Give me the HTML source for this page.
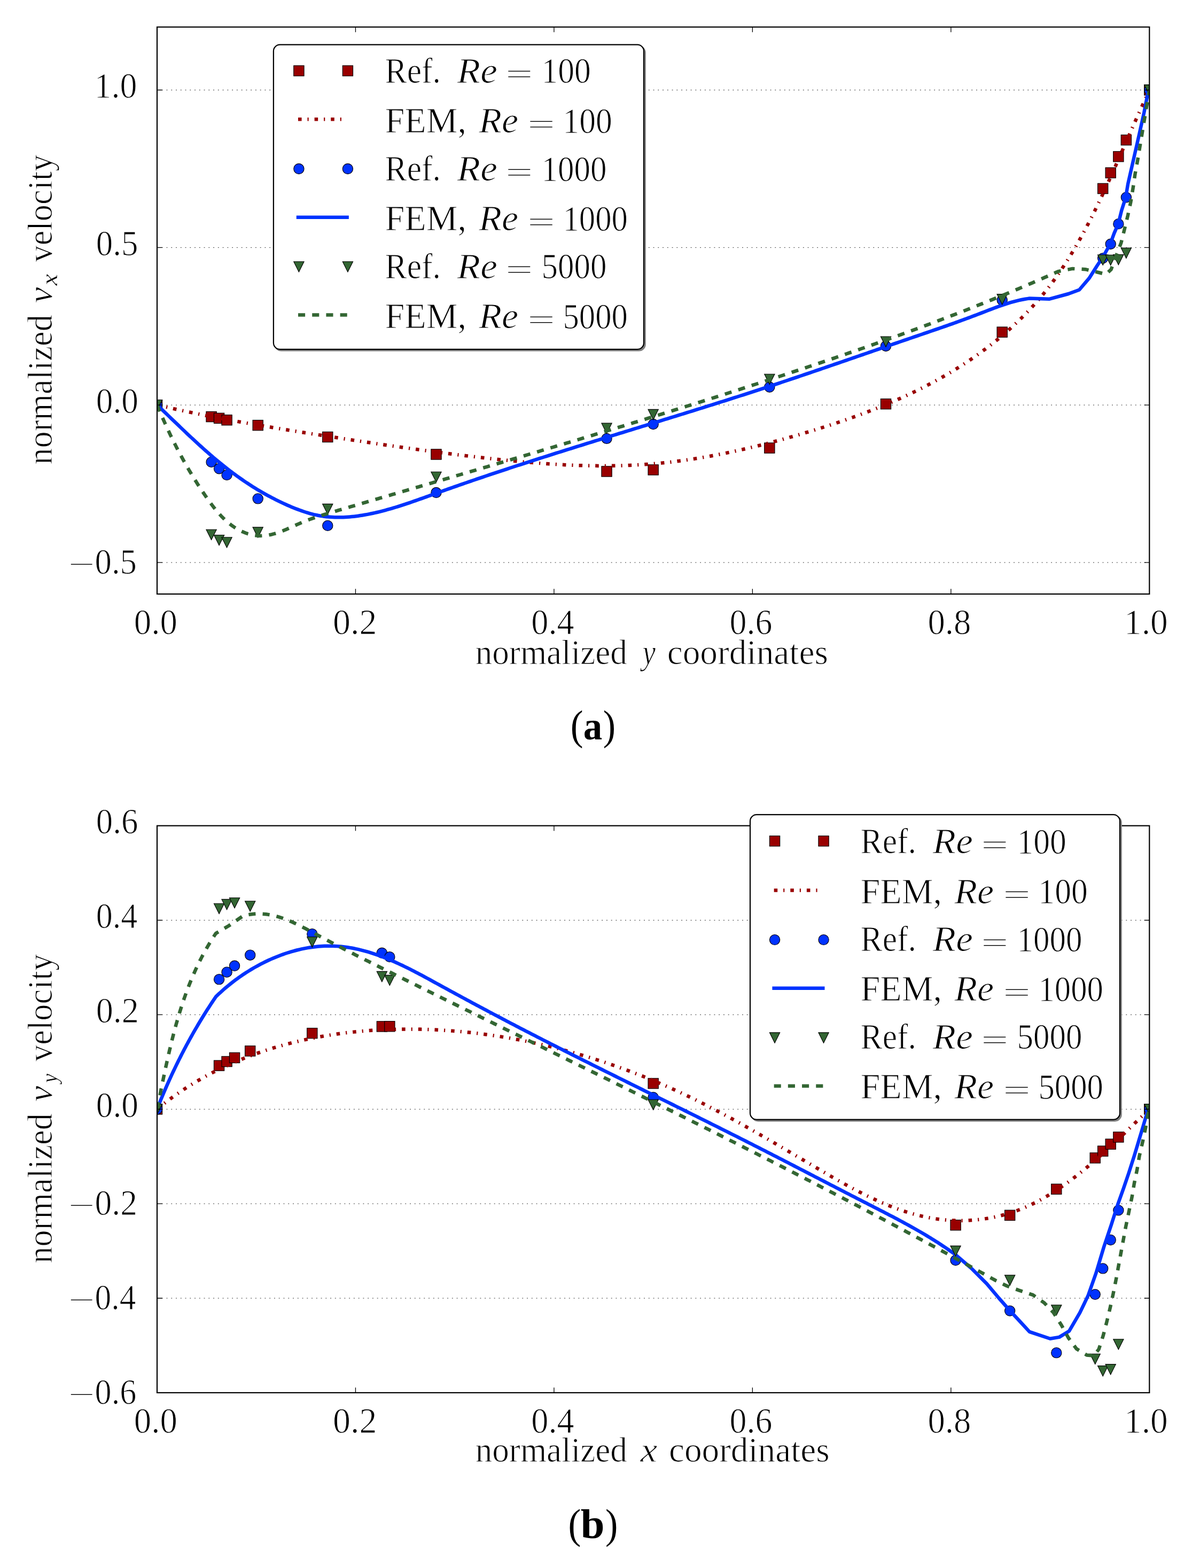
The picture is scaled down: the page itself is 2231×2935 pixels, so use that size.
<!DOCTYPE html>
<html lang="en"><head><meta charset="utf-8"><title>Lid-driven cavity velocity profiles</title>
<style>html,body{margin:0;padding:0;background:#fff}svg{display:block}</style></head>
<body>
<svg width="2231" height="2935" viewBox="0 0 2231 2935" font-family='"Liberation Serif", "DejaVu Serif", serif' fill="#000">
<style>text{stroke:#fff;stroke-width:1.1px;stroke-linejoin:round}text.cap{stroke:none}</style>
<rect width="2231" height="2935" fill="#fff"/>
<defs><clipPath id="c1"><rect x="294.0" y="50.6" width="1857.3000000000002" height="1061.3000000000002"/></clipPath><clipPath id="c2"><rect x="294.0" y="1545.6" width="1857.3000000000002" height="1061.3000000000002"/></clipPath></defs>
<path d="M294 168.52H2151.3M294 463.33H2151.3M294 758.13H2151.3M294 1052.94H2151.3" stroke="#000" stroke-opacity="0.85" stroke-width="1" stroke-dasharray="1.9 6.86" fill="none"/>
<g clip-path="url(#c1)">
<g><rect x="284.35" y="748.48" width="19.3" height="19.3" fill="#990000" stroke="#000" stroke-width="1.1"/><rect x="385.94" y="770.4" width="19.3" height="19.3" fill="#990000" stroke="#000" stroke-width="1.1"/><rect x="400.43" y="773.2" width="19.3" height="19.3" fill="#990000" stroke="#000" stroke-width="1.1"/><rect x="414.92" y="776.64" width="19.3" height="19.3" fill="#990000" stroke="#000" stroke-width="1.1"/><rect x="473.05" y="786.42" width="19.3" height="19.3" fill="#990000" stroke="#000" stroke-width="1.1"/><rect x="603.62" y="808.33" width="19.3" height="19.3" fill="#990000" stroke="#000" stroke-width="1.1"/><rect x="806.81" y="840.83" width="19.3" height="19.3" fill="#990000" stroke="#000" stroke-width="1.1"/><rect x="1125.89" y="872.83" width="19.3" height="19.3" fill="#990000" stroke="#000" stroke-width="1.1"/><rect x="1213" y="869.83" width="19.3" height="19.3" fill="#990000" stroke="#000" stroke-width="1.1"/><rect x="1430.68" y="828.91" width="19.3" height="19.3" fill="#990000" stroke="#000" stroke-width="1.1"/><rect x="1648.35" y="746.53" width="19.3" height="19.3" fill="#990000" stroke="#000" stroke-width="1.1"/><rect x="1866.03" y="611.98" width="19.3" height="19.3" fill="#990000" stroke="#000" stroke-width="1.1"/><rect x="2054.54" y="343.32" width="19.3" height="19.3" fill="#990000" stroke="#000" stroke-width="1.1"/><rect x="2069.03" y="313.81" width="19.3" height="19.3" fill="#990000" stroke="#000" stroke-width="1.1"/><rect x="2083.7" y="283.45" width="19.3" height="19.3" fill="#990000" stroke="#000" stroke-width="1.1"/><rect x="2098.19" y="252.48" width="19.3" height="19.3" fill="#990000" stroke="#000" stroke-width="1.1"/><rect x="2141.65" y="158.87" width="19.3" height="19.3" fill="#990000" stroke="#000" stroke-width="1.1"/></g>
<path d="M294 758 L297.9 758.91 L301.8 759.82 L305.7 760.72 L309.61 761.61 L313.51 762.5 L317.42 763.38 L321.33 764.25 L325.24 765.12 L329.15 765.98 L333.07 766.84 L336.98 767.69 L340.9 768.53 L344.81 769.37 L348.73 770.2 L352.66 771.03 L356.58 771.85 L360.5 772.66 L364.43 773.47 L368.35 774.28 L372.28 775.07 L376.21 775.87 L380.14 776.66 L384.07 777.44 L388 778.22 L391.93 778.99 L395.87 779.76 L399.8 780.52 L403.74 781.28 L407.68 782.03 L411.62 782.78 L415.56 783.53 L419.5 784.27 L423.44 785 L427.38 785.74 L431.32 786.46 L435.27 787.19 L439.21 787.9 L443.16 788.62 L447.11 789.33 L451.05 790.04 L455 790.74 L458.95 791.44 L462.9 792.14 L466.85 792.83 L470.8 793.52 L474.75 794.2 L478.7 794.88 L482.66 795.56 L486.61 796.24 L490.56 796.91 L494.52 797.58 L498.47 798.25 L502.43 798.91 L506.38 799.57 L510.34 800.23 L514.3 800.88 L518.25 801.54 L522.21 802.19 L526.17 802.83 L530.12 803.48 L534.08 804.12 L538.04 804.76 L542 805.4 L545.96 806.03 L549.91 806.67 L553.87 807.3 L557.83 807.93 L561.79 808.56 L565.75 809.18 L569.71 809.81 L573.67 810.43 L577.63 811.05 L581.58 811.67 L585.54 812.29 L589.5 812.91 L593.46 813.53 L597.42 814.14 L601.38 814.76 L605.33 815.37 L609.29 815.98 L613.25 816.59 L617.21 817.2 L621.16 817.81 L625.12 818.42 L629.08 819.03 L633.03 819.63 L636.99 820.24 L640.95 820.84 L644.9 821.45 L648.86 822.05 L652.81 822.65 L656.77 823.25 L660.72 823.85 L664.68 824.45 L668.63 825.04 L672.59 825.64 L676.55 826.23 L680.5 826.83 L684.46 827.42 L688.41 828.01 L692.37 828.59 L696.32 829.18 L700.28 829.77 L704.24 830.35 L708.19 830.93 L712.15 831.51 L716.11 832.09 L720.07 832.66 L724.02 833.24 L727.98 833.81 L731.94 834.38 L735.9 834.95 L739.86 835.52 L743.82 836.08 L747.77 836.65 L751.73 837.21 L755.7 837.77 L759.66 838.32 L763.62 838.88 L767.58 839.43 L771.54 839.98 L775.51 840.53 L779.47 841.08 L783.43 841.62 L787.4 842.16 L791.36 842.7 L795.33 843.24 L799.3 843.77 L803.26 844.3 L807.23 844.83 L811.2 845.36 L815.17 845.88 L819.14 846.4 L823.11 846.92 L827.08 847.43 L831.06 847.95 L835.03 848.46 L839 848.96 L842.98 849.47 L846.95 849.97 L850.93 850.47 L854.91 850.96 L858.89 851.45 L862.87 851.94 L866.85 852.43 L870.83 852.91 L874.82 853.39 L878.8 853.87 L882.79 854.34 L886.77 854.81 L890.76 855.28 L894.75 855.74 L898.74 856.2 L902.73 856.66 L906.72 857.11 L910.71 857.56 L914.71 858.01 L918.7 858.45 L922.7 858.88 L926.7 859.32 L930.7 859.75 L934.7 860.17 L938.7 860.59 L942.7 861 L946.7 861.41 L950.7 861.82 L954.71 862.22 L958.71 862.61 L962.72 862.99 L966.72 863.38 L970.73 863.75 L974.74 864.12 L978.74 864.48 L982.75 864.84 L986.76 865.19 L990.77 865.53 L994.78 865.86 L998.79 866.19 L1002.8 866.51 L1006.81 866.83 L1010.82 867.13 L1014.83 867.43 L1018.84 867.72 L1022.85 868 L1026.86 868.27 L1030.87 868.54 L1034.89 868.79 L1038.9 869.04 L1042.91 869.28 L1046.92 869.51 L1050.93 869.73 L1054.94 869.94 L1058.95 870.14 L1062.96 870.33 L1066.97 870.51 L1070.98 870.68 L1074.99 870.84 L1079 870.99 L1083.01 871.13 L1087.02 871.26 L1091.03 871.37 L1095.04 871.48 L1099.04 871.58 L1103.05 871.66 L1107.06 871.73 L1111.06 871.79 L1115.07 871.84 L1119.07 871.88 L1123.08 871.9 L1127.08 871.92 L1131.08 871.92 L1135.08 871.9 L1139.08 871.88 L1143.08 871.84 L1147.08 871.79 L1151.08 871.72 L1155.07 871.64 L1159.07 871.55 L1163.06 871.45 L1167.05 871.33 L1171.05 871.19 L1175.04 871.04 L1179.03 870.88 L1183.01 870.7 L1187 870.51 L1190.99 870.3 L1194.97 870.08 L1198.95 869.84 L1202.93 869.59 L1206.91 869.32 L1210.89 869.04 L1214.87 868.74 L1218.84 868.42 L1222.82 868.09 L1226.79 867.75 L1230.76 867.38 L1234.73 867.01 L1238.69 866.61 L1242.66 866.21 L1246.62 865.79 L1250.59 865.35 L1254.55 864.9 L1258.51 864.43 L1262.47 863.95 L1266.42 863.46 L1270.38 862.95 L1274.33 862.42 L1278.28 861.89 L1282.23 861.34 L1286.18 860.77 L1290.13 860.19 L1294.07 859.6 L1298.02 859 L1301.96 858.38 L1305.9 857.75 L1309.84 857.1 L1313.78 856.45 L1317.71 855.78 L1321.65 855.09 L1325.58 854.4 L1329.51 853.69 L1333.44 852.97 L1337.37 852.24 L1341.29 851.49 L1345.22 850.74 L1349.14 849.97 L1353.06 849.19 L1356.98 848.4 L1360.9 847.6 L1364.82 846.78 L1368.73 845.96 L1372.65 845.12 L1376.56 844.27 L1380.47 843.41 L1384.38 842.54 L1388.28 841.66 L1392.19 840.77 L1396.09 839.87 L1399.99 838.96 L1403.9 838.04 L1407.79 837.11 L1411.69 836.16 L1415.59 835.21 L1419.48 834.25 L1423.37 833.28 L1427.26 832.3 L1431.15 831.31 L1435.04 830.31 L1438.93 829.3 L1442.81 828.29 L1446.69 827.26 L1450.58 826.22 L1454.45 825.18 L1458.33 824.13 L1462.21 823.07 L1466.08 822 L1469.96 820.92 L1473.83 819.83 L1477.7 818.74 L1481.56 817.64 L1485.43 816.53 L1489.3 815.41 L1493.16 814.29 L1497.02 813.16 L1500.88 812.02 L1504.74 810.87 L1508.59 809.72 L1512.45 808.56 L1516.3 807.39 L1520.15 806.22 L1524 805.03 L1527.85 803.85 L1531.69 802.65 L1535.54 801.44 L1539.38 800.23 L1543.21 799.01 L1547.05 797.78 L1550.88 796.54 L1554.71 795.3 L1558.54 794.04 L1562.36 792.78 L1566.18 791.51 L1570 790.23 L1573.81 788.93 L1577.62 787.63 L1581.42 786.32 L1585.23 785 L1589.03 783.68 L1592.82 782.34 L1596.61 780.99 L1600.4 779.63 L1604.18 778.26 L1607.96 776.88 L1611.73 775.49 L1615.5 774.08 L1619.26 772.67 L1623.02 771.25 L1626.77 769.81 L1630.52 768.36 L1634.26 766.9 L1638 765.43 L1641.73 763.95 L1645.46 762.46 L1649.18 760.95 L1652.9 759.43 L1656.61 757.9 L1660.31 756.35 L1664.01 754.8 L1667.7 753.23 L1671.39 751.64 L1675.06 750.05 L1678.74 748.44 L1682.4 746.81 L1686.06 745.18 L1689.71 743.53 L1693.36 741.86 L1697 740.18 L1700.63 738.49 L1704.25 736.78 L1707.86 735.06 L1711.47 733.32 L1715.07 731.57 L1718.67 729.81 L1722.25 728.02 L1725.83 726.23 L1729.4 724.41 L1732.96 722.59 L1736.51 720.74 L1740.05 718.88 L1743.59 717.01 L1747.11 715.12 L1750.63 713.21 L1754.14 711.28 L1757.64 709.34 L1761.13 707.38 L1764.61 705.41 L1768.08 703.42 L1771.55 701.41 L1775 699.38 L1778.44 697.34 L1781.88 695.28 L1785.3 693.2 L1788.71 691.11 L1792.11 688.99 L1795.5 686.86 L1798.88 684.72 L1802.25 682.55 L1805.6 680.37 L1808.95 678.17 L1812.28 675.96 L1815.6 673.73 L1818.9 671.48 L1822.2 669.21 L1825.48 666.92 L1828.75 664.62 L1832 662.3 L1835.25 659.96 L1838.47 657.61 L1841.69 655.23 L1844.89 652.84 L1848.07 650.43 L1851.25 648.01 L1854.4 645.57 L1857.54 643.1 L1860.67 640.63 L1863.78 638.13 L1866.88 635.62 L1869.96 633.08 L1873.02 630.53 L1876.07 627.97 L1879.1 625.38 L1882.12 622.78 L1885.11 620.15 L1888.09 617.52 L1891.06 614.86 L1894.01 612.18 L1896.93 609.49 L1899.85 606.78 L1902.74 604.05 L1905.61 601.3 L1908.47 598.54 L1911.31 595.75 L1914.13 592.95 L1916.93 590.13 L1919.71 587.29 L1922.47 584.44 L1925.21 581.56 L1927.93 578.67 L1930.63 575.76 L1933.32 572.83 L1935.98 569.88 L1938.62 566.92 L1941.24 563.93 L1943.83 560.93 L1946.41 557.91 L1948.97 554.87 L1951.5 551.81 L1954.01 548.73 L1956.5 545.64 L1958.97 542.52 L1961.42 539.39 L1963.85 536.25 L1966.25 533.08 L1968.64 529.9 L1971 526.7 L1973.35 523.48 L1975.67 520.25 L1977.98 517.01 L1980.27 513.74 L1982.53 510.46 L1984.78 507.17 L1987.02 503.86 L1989.23 500.54 L1991.43 497.21 L1993.6 493.86 L1995.76 490.49 L1997.91 487.12 L2000.04 483.73 L2002.15 480.32 L2004.24 476.91 L2006.32 473.48 L2008.38 470.04 L2010.43 466.59 L2012.46 463.13 L2014.48 459.66 L2016.49 456.17 L2018.48 452.68 L2020.45 449.17 L2022.41 445.66 L2024.36 442.13 L2026.29 438.6 L2028.22 435.06 L2030.12 431.51 L2032.02 427.94 L2033.9 424.38 L2035.78 420.8 L2037.64 417.21 L2039.49 413.62 L2041.32 410.02 L2043.15 406.42 L2044.97 402.8 L2046.77 399.18 L2048.57 395.56 L2050.36 391.93 L2052.13 388.29 L2053.9 384.65 L2055.66 381 L2057.41 377.35 L2059.15 373.69 L2060.88 370.03 L2062.61 366.36 L2064.33 362.7 L2066.04 359.03 L2067.74 355.35 L2069.44 351.67 L2071.13 347.99 L2072.81 344.31 L2074.49 340.63 L2076.16 336.94 L2077.82 333.25 L2079.48 329.56 L2081.14 325.87 L2082.79 322.18 L2084.44 318.49 L2086.08 314.8 L2087.72 311.11 L2089.35 307.42 L2090.98 303.74 L2092.61 300.05 L2094.23 296.36 L2095.86 292.67 L2097.48 288.99 L2099.09 285.31 L2100.71 281.62 L2102.32 277.94 L2103.94 274.26 L2105.55 270.59 L2107.16 266.91 L2108.77 263.24 L2110.38 259.57 L2112 255.9 L2113.61 252.24 L2115.22 248.58 L2116.83 244.92 L2118.45 241.26 L2120.06 237.61 L2121.68 233.96 L2123.3 230.31 L2124.92 226.67 L2126.55 223.03 L2128.17 219.4 L2129.8 215.77 L2131.44 212.14 L2133.07 208.52 L2134.72 204.9 L2136.36 201.29 L2138.01 197.68 L2139.67 194.07 L2141.33 190.48 L2142.99 186.88 L2144.66 183.29 L2146.34 179.71 L2148.02 176.13 L2149.71 172.56 L2151.41 169" fill="none" stroke="#990000" stroke-width="6.5" stroke-linejoin="round" stroke-dasharray="6.58 10.965 2.195 10.965"/>
<g><circle cx="294" cy="758.13" r="9.65" fill="#0033ff" stroke="#000" stroke-width="1.1"/><circle cx="395.59" cy="864.91" r="9.65" fill="#0033ff" stroke="#000" stroke-width="1.1"/><circle cx="410.08" cy="877.21" r="9.65" fill="#0033ff" stroke="#000" stroke-width="1.1"/><circle cx="424.57" cy="889.14" r="9.65" fill="#0033ff" stroke="#000" stroke-width="1.1"/><circle cx="482.7" cy="933.42" r="9.65" fill="#0033ff" stroke="#000" stroke-width="1.1"/><circle cx="613.27" cy="983.89" r="9.65" fill="#0033ff" stroke="#000" stroke-width="1.1"/><circle cx="816.46" cy="922.07" r="9.65" fill="#0033ff" stroke="#000" stroke-width="1.1"/><circle cx="1135.54" cy="820.92" r="9.65" fill="#0033ff" stroke="#000" stroke-width="1.1"/><circle cx="1222.65" cy="793.98" r="9.65" fill="#0033ff" stroke="#000" stroke-width="1.1"/><circle cx="1440.33" cy="724.51" r="9.65" fill="#0033ff" stroke="#000" stroke-width="1.1"/><circle cx="1658" cy="647.76" r="9.65" fill="#0033ff" stroke="#000" stroke-width="1.1"/><circle cx="1875.68" cy="561.77" r="9.65" fill="#0033ff" stroke="#000" stroke-width="1.1"/><circle cx="2064.19" cy="483.35" r="9.65" fill="#0033ff" stroke="#000" stroke-width="1.1"/><circle cx="2078.68" cy="456.74" r="9.65" fill="#0033ff" stroke="#000" stroke-width="1.1"/><circle cx="2093.35" cy="419.15" r="9.65" fill="#0033ff" stroke="#000" stroke-width="1.1"/><circle cx="2107.84" cy="369.41" r="9.65" fill="#0033ff" stroke="#000" stroke-width="1.1"/><circle cx="2151.3" cy="168.52" r="9.65" fill="#0033ff" stroke="#000" stroke-width="1.1"/></g>
<path d="M294 758 L296.94 760.78 L299.87 763.56 L302.8 766.34 L305.72 769.12 L308.64 771.91 L311.55 774.7 L314.46 777.48 L317.37 780.27 L320.27 783.05 L323.17 785.84 L326.07 788.62 L328.97 791.4 L331.86 794.18 L334.76 796.96 L337.66 799.73 L340.56 802.5 L343.46 805.26 L346.36 808.02 L349.27 810.77 L352.18 813.52 L355.09 816.27 L358 819 L360.93 821.73 L363.85 824.45 L366.79 827.17 L369.73 829.87 L372.67 832.57 L375.63 835.25 L378.59 837.93 L381.56 840.6 L384.54 843.25 L387.53 845.9 L390.53 848.53 L393.54 851.15 L396.56 853.76 L399.6 856.36 L402.64 858.94 L405.7 861.51 L408.78 864.06 L411.86 866.6 L414.96 869.12 L418.08 871.63 L421.21 874.12 L424.36 876.6 L427.53 879.05 L430.71 881.49 L433.91 883.91 L437.13 886.32 L440.37 888.7 L443.63 891.07 L446.9 893.41 L450.2 895.74 L453.51 898.04 L456.84 900.32 L460.19 902.58 L463.55 904.82 L466.94 907.03 L470.34 909.22 L473.75 911.39 L477.19 913.53 L480.64 915.65 L484.11 917.74 L487.6 919.81 L491.1 921.84 L494.62 923.86 L498.16 925.84 L501.71 927.8 L505.28 929.72 L508.86 931.62 L512.46 933.49 L516.08 935.33 L519.71 937.14 L523.35 938.91 L527.02 940.66 L530.69 942.37 L534.38 944.05 L538.09 945.7 L541.81 947.31 L545.54 948.89 L549.29 950.44 L553.05 951.94 L556.83 953.4 L560.62 954.81 L564.42 956.17 L568.24 957.48 L572.06 958.72 L575.9 959.91 L579.76 961.03 L583.62 962.07 L587.49 963.05 L591.38 963.94 L595.28 964.76 L599.18 965.49 L603.1 966.13 L607.03 966.69 L610.96 967.16 L614.9 967.55 L618.85 967.86 L622.81 968.09 L626.77 968.25 L630.73 968.34 L634.7 968.35 L638.67 968.3 L642.64 968.18 L646.61 968 L650.58 967.75 L654.55 967.44 L658.52 967.08 L662.48 966.66 L666.44 966.19 L670.4 965.66 L674.35 965.09 L678.3 964.47 L682.23 963.81 L686.16 963.1 L690.08 962.35 L694 961.56 L697.9 960.74 L701.8 959.87 L705.69 958.98 L709.57 958.04 L713.45 957.08 L717.32 956.08 L721.19 955.05 L725.04 953.99 L728.9 952.91 L732.75 951.8 L736.59 950.66 L740.43 949.5 L744.26 948.31 L748.09 947.11 L751.91 945.88 L755.73 944.64 L759.55 943.38 L763.37 942.1 L767.18 940.81 L770.99 939.51 L774.79 938.19 L778.6 936.86 L782.4 935.52 L786.2 934.18 L790 932.82 L793.8 931.46 L797.6 930.1 L801.39 928.74 L805.19 927.37 L808.99 926 L812.78 924.63 L816.58 923.27 L820.38 921.91 L824.18 920.55 L827.98 919.19 L831.78 917.84 L835.58 916.49 L839.38 915.15 L843.18 913.81 L846.99 912.47 L850.79 911.14 L854.6 909.81 L858.4 908.48 L862.21 907.16 L866.02 905.84 L869.82 904.52 L873.63 903.21 L877.44 901.9 L881.25 900.59 L885.06 899.28 L888.87 897.98 L892.68 896.68 L896.5 895.39 L900.31 894.09 L904.12 892.8 L907.94 891.52 L911.75 890.23 L915.57 888.95 L919.38 887.67 L923.2 886.4 L927.02 885.12 L930.83 883.85 L934.65 882.58 L938.47 881.32 L942.29 880.06 L946.11 878.8 L949.93 877.54 L953.75 876.28 L957.57 875.03 L961.4 873.78 L965.22 872.53 L969.04 871.28 L972.86 870.04 L976.69 868.79 L980.51 867.55 L984.34 866.32 L988.16 865.08 L991.99 863.85 L995.81 862.61 L999.64 861.38 L1003.47 860.15 L1007.29 858.93 L1011.12 857.7 L1014.95 856.48 L1018.78 855.26 L1022.6 854.04 L1026.43 852.82 L1030.26 851.61 L1034.09 850.39 L1037.92 849.18 L1041.75 847.97 L1045.58 846.76 L1049.41 845.55 L1053.24 844.34 L1057.08 843.14 L1060.91 841.93 L1064.74 840.73 L1068.57 839.53 L1072.4 838.33 L1076.24 837.13 L1080.07 835.93 L1083.9 834.74 L1087.74 833.54 L1091.57 832.34 L1095.4 831.15 L1099.24 829.96 L1103.07 828.77 L1106.91 827.58 L1110.74 826.39 L1114.58 825.2 L1118.41 824.01 L1122.24 822.82 L1126.08 821.63 L1129.91 820.45 L1133.75 819.26 L1137.59 818.08 L1141.42 816.89 L1145.26 815.71 L1149.09 814.52 L1152.93 813.34 L1156.76 812.16 L1160.6 810.97 L1164.44 809.79 L1168.27 808.61 L1172.11 807.43 L1175.94 806.25 L1179.78 805.07 L1183.61 803.89 L1187.45 802.71 L1191.29 801.52 L1195.12 800.34 L1198.96 799.16 L1202.79 797.98 L1206.63 796.8 L1210.47 795.62 L1214.3 794.44 L1218.14 793.26 L1221.97 792.08 L1225.81 790.89 L1229.64 789.71 L1233.48 788.53 L1237.31 787.35 L1241.15 786.16 L1244.98 784.98 L1248.82 783.8 L1252.65 782.61 L1256.49 781.43 L1260.32 780.24 L1264.16 779.05 L1267.99 777.87 L1271.82 776.68 L1275.66 775.49 L1279.49 774.3 L1283.32 773.11 L1287.16 771.92 L1290.99 770.73 L1294.82 769.53 L1298.65 768.34 L1302.49 767.14 L1306.32 765.95 L1310.15 764.75 L1313.98 763.55 L1317.81 762.35 L1321.64 761.15 L1325.47 759.95 L1329.3 758.75 L1333.13 757.54 L1336.96 756.34 L1340.79 755.13 L1344.62 753.92 L1348.45 752.71 L1352.27 751.5 L1356.1 750.29 L1359.93 749.07 L1363.75 747.86 L1367.58 746.64 L1371.41 745.42 L1375.23 744.2 L1379.06 742.97 L1382.88 741.75 L1386.71 740.52 L1390.53 739.29 L1394.35 738.06 L1398.18 736.83 L1402 735.6 L1405.82 734.36 L1409.64 733.12 L1413.46 731.88 L1417.28 730.64 L1421.1 729.39 L1424.92 728.14 L1428.74 726.89 L1432.56 725.64 L1436.38 724.39 L1440.19 723.13 L1444.01 721.87 L1447.82 720.61 L1451.64 719.35 L1455.46 718.08 L1459.27 716.81 L1463.08 715.54 L1466.9 714.27 L1470.71 713 L1474.52 711.72 L1478.33 710.44 L1482.14 709.16 L1485.96 707.88 L1489.77 706.6 L1493.58 705.31 L1497.38 704.03 L1501.19 702.74 L1505 701.45 L1508.81 700.15 L1512.62 698.86 L1516.42 697.57 L1520.23 696.27 L1524.04 694.97 L1527.84 693.67 L1531.65 692.37 L1535.45 691.07 L1539.26 689.77 L1543.06 688.47 L1546.87 687.16 L1550.67 685.86 L1554.47 684.55 L1558.28 683.25 L1562.08 681.94 L1565.88 680.63 L1569.68 679.32 L1573.48 678.01 L1577.28 676.7 L1581.09 675.39 L1584.89 674.08 L1588.69 672.77 L1592.49 671.46 L1596.29 670.15 L1600.09 668.84 L1603.89 667.52 L1607.68 666.21 L1611.48 664.9 L1615.28 663.59 L1619.08 662.27 L1622.88 660.96 L1626.68 659.65 L1630.47 658.34 L1634.27 657.02 L1638.07 655.71 L1641.86 654.4 L1645.66 653.09 L1649.46 651.78 L1653.25 650.47 L1657.05 649.16 L1660.85 647.85 L1664.64 646.54 L1668.44 645.24 L1672.23 643.93 L1676.03 642.62 L1679.83 641.32 L1683.62 640.02 L1687.42 638.71 L1691.21 637.41 L1695.01 636.11 L1698.8 634.81 L1702.6 633.51 L1706.39 632.22 L1710.19 630.92 L1713.98 629.62 L1717.78 628.33 L1721.57 627.03 L1725.36 625.74 L1729.16 624.44 L1732.95 623.15 L1736.74 621.85 L1740.53 620.55 L1744.32 619.25 L1748.11 617.94 L1751.9 616.64 L1755.69 615.33 L1759.47 614.02 L1763.26 612.7 L1767.04 611.38 L1770.83 610.06 L1774.61 608.73 L1778.39 607.39 L1782.17 606.06 L1785.94 604.71 L1789.72 603.36 L1793.49 602.01 L1797.26 600.65 L1801.03 599.28 L1804.8 597.9 L1808.57 596.52 L1812.33 595.13 L1816.09 593.73 L1819.85 592.32 L1823.61 590.9 L1827.36 589.48 L1831.12 588.05 L1834.86 586.6 L1838.61 585.15 L1842.36 583.7 L1846.11 582.24 L1849.85 580.79 L1853.61 579.35 L1857.36 577.92 L1861.12 576.5 L1864.89 575.11 L1868.66 573.73 L1872.44 572.39 L1876.23 571.07 L1880.03 569.8 L1883.84 568.55 L1887.67 567.36 L1891.5 566.2 L1895.36 565.1 L1899.23 564.05 L1903.11 563.06 L1907.02 562.14 L1910.94 561.27 L1914.88 560.48 L1918.85 559.76 L1922.84 559.12 L1926.85 558.56 L1964.35 559.63 L1999.7 549.99 L2020.06 542.49 L2038.6 520.7 L2053.3 497.5 L2064.3 481 L2077.91 456.78 L2085.41 436.42 L2092.91 419.28 L2099.34 393.57 L2106.84 370 L2111.12 344.27 L2121.84 297.13 L2132.55 249.99 L2141.12 211.42 L2148.62 172.85 L2151.41 169" fill="none" stroke="#0033ff" stroke-width="6.5" stroke-linejoin="round"/>
<g><path d="M284.35 748.48H303.65L294 767.78Z" fill="#336633" stroke="#000" stroke-width="1.1"/><path d="M385.94 991.2H405.24L395.59 1010.5Z" fill="#336633" stroke="#000" stroke-width="1.1"/><path d="M400.43 1001.43H419.73L410.08 1020.73Z" fill="#336633" stroke="#000" stroke-width="1.1"/><path d="M414.92 1005.81H434.22L424.57 1025.11Z" fill="#336633" stroke="#000" stroke-width="1.1"/><path d="M473.05 986.89H492.35L482.7 1006.19Z" fill="#336633" stroke="#000" stroke-width="1.1"/><path d="M603.62 943.35H622.92L613.27 962.65Z" fill="#336633" stroke="#000" stroke-width="1.1"/><path d="M806.81 883.24H826.11L816.46 902.54Z" fill="#336633" stroke="#000" stroke-width="1.1"/><path d="M1125.89 792.14H1145.19L1135.54 811.44Z" fill="#336633" stroke="#000" stroke-width="1.1"/><path d="M1213 766.4H1232.3L1222.65 785.7Z" fill="#336633" stroke="#000" stroke-width="1.1"/><path d="M1430.68 700.24H1449.98L1440.33 719.54Z" fill="#336633" stroke="#000" stroke-width="1.1"/><path d="M1648.35 630.05H1667.65L1658 649.35Z" fill="#336633" stroke="#000" stroke-width="1.1"/><path d="M1866.03 550.63H1885.33L1875.68 569.93Z" fill="#336633" stroke="#000" stroke-width="1.1"/><path d="M2054.54 477.05H2073.84L2064.19 496.35Z" fill="#336633" stroke="#000" stroke-width="1.1"/><path d="M2069.03 477.31H2088.33L2078.68 496.61Z" fill="#336633" stroke="#000" stroke-width="1.1"/><path d="M2083.7 476.55H2103L2093.35 495.85Z" fill="#336633" stroke="#000" stroke-width="1.1"/><path d="M2098.19 464.16H2117.49L2107.84 483.46Z" fill="#336633" stroke="#000" stroke-width="1.1"/><path d="M2141.65 158.87H2160.95L2151.3 178.17Z" fill="#336633" stroke="#000" stroke-width="1.1"/></g>
<path d="M294 758 L295.57 761.79 L297.15 765.56 L298.74 769.31 L300.34 773.05 L301.95 776.78 L303.56 780.49 L305.18 784.18 L306.82 787.87 L308.46 791.53 L310.11 795.19 L311.77 798.83 L313.45 802.47 L315.13 806.08 L316.83 809.69 L318.54 813.29 L320.26 816.87 L322 820.44 L323.74 824.01 L325.5 827.56 L327.28 831.1 L329.07 834.63 L330.87 838.16 L332.69 841.67 L334.53 845.18 L336.37 848.67 L338.24 852.16 L340.12 855.64 L342.02 859.12 L343.94 862.58 L345.87 866.04 L347.82 869.5 L349.79 872.95 L351.78 876.39 L353.79 879.82 L355.82 883.25 L357.87 886.68 L359.93 890.1 L362.02 893.52 L364.13 896.93 L366.26 900.34 L368.41 903.75 L370.58 907.15 L372.78 910.55 L375 913.95 L377.24 917.35 L379.5 920.74 L381.79 924.13 L384.1 927.53 L386.44 930.92 L388.8 934.3 L391.2 937.67 L393.63 941.02 L396.09 944.34 L398.59 947.63 L401.13 950.89 L403.71 954.1 L406.34 957.26 L409.02 960.37 L411.75 963.42 L414.53 966.4 L417.37 969.31 L420.26 972.14 L423.22 974.88 L426.24 977.54 L429.33 980.09 L432.48 982.55 L435.71 984.89 L439 987.13 L442.36 989.24 L445.78 991.22 L449.26 993.07 L452.78 994.79 L456.36 996.35 L459.97 997.77 L463.63 999.02 L467.33 1000.11 L471.05 1001.03 L474.81 1001.78 L478.58 1002.34 L482.38 1002.71 L486.19 1002.89 L490.02 1002.87 L493.85 1002.67 L497.69 1002.29 L501.53 1001.75 L505.37 1001.06 L509.21 1000.21 L513.04 999.22 L516.85 998.11 L520.66 996.87 L524.46 995.52 L528.24 994.08 L532.01 992.56 L535.78 990.97 L539.54 989.33 L543.3 987.66 L547.05 985.96 L550.8 984.26 L554.55 982.56 L558.31 980.88 L562.06 979.23 L565.83 977.64 L569.6 976.09 L573.37 974.6 L577.15 973.16 L580.94 971.76 L584.73 970.4 L588.52 969.08 L592.32 967.8 L596.12 966.54 L599.93 965.32 L603.73 964.11 L607.55 962.93 L611.36 961.77 L615.18 960.62 L619 959.48 L622.82 958.35 L626.64 957.22 L630.46 956.1 L634.29 954.97 L638.12 953.85 L641.94 952.72 L645.77 951.59 L649.6 950.47 L653.43 949.34 L657.26 948.22 L661.09 947.09 L664.93 945.97 L668.76 944.84 L672.6 943.72 L676.43 942.59 L680.27 941.47 L684.11 940.34 L687.95 939.22 L691.79 938.09 L695.63 936.97 L699.47 935.84 L703.31 934.72 L707.15 933.59 L711 932.47 L714.84 931.34 L718.68 930.22 L722.53 929.09 L726.37 927.97 L730.22 926.84 L734.07 925.71 L737.91 924.59 L741.76 923.46 L745.61 922.34 L749.46 921.21 L753.3 920.09 L757.15 918.96 L761 917.83 L764.85 916.71 L768.7 915.58 L772.55 914.45 L776.4 913.33 L780.25 912.2 L784.1 911.07 L787.95 909.95 L791.8 908.82 L795.66 907.69 L799.51 906.57 L803.36 905.44 L807.21 904.31 L811.06 903.18 L814.91 902.05 L818.76 900.93 L822.61 899.8 L826.46 898.67 L830.31 897.54 L834.16 896.41 L838.01 895.28 L841.87 894.15 L845.72 893.02 L849.57 891.89 L853.42 890.76 L857.27 889.63 L861.12 888.5 L864.97 887.37 L868.82 886.24 L872.67 885.11 L876.51 883.97 L880.36 882.84 L884.21 881.71 L888.06 880.58 L891.91 879.44 L895.76 878.31 L899.61 877.18 L903.46 876.04 L907.31 874.91 L911.16 873.77 L915 872.64 L918.85 871.5 L922.7 870.37 L926.55 869.23 L930.4 868.1 L934.24 866.96 L938.09 865.82 L941.94 864.68 L945.79 863.55 L949.63 862.41 L953.48 861.27 L957.33 860.13 L961.17 858.99 L965.02 857.85 L968.87 856.71 L972.71 855.57 L976.56 854.42 L980.4 853.28 L984.25 852.14 L988.1 851 L991.94 849.85 L995.79 848.71 L999.63 847.56 L1003.48 846.42 L1007.32 845.27 L1011.16 844.13 L1015.01 842.98 L1018.85 841.83 L1022.7 840.69 L1026.54 839.54 L1030.38 838.39 L1034.23 837.24 L1038.07 836.09 L1041.91 834.94 L1045.76 833.79 L1049.6 832.63 L1053.44 831.48 L1057.28 830.33 L1061.13 829.18 L1064.97 828.02 L1068.81 826.87 L1072.65 825.71 L1076.49 824.55 L1080.33 823.4 L1084.17 822.24 L1088.01 821.08 L1091.85 819.92 L1095.69 818.76 L1099.53 817.6 L1103.37 816.44 L1107.21 815.28 L1111.05 814.12 L1114.89 812.96 L1118.73 811.79 L1122.57 810.63 L1126.4 809.46 L1130.24 808.3 L1134.08 807.13 L1137.92 805.96 L1141.75 804.79 L1145.59 803.63 L1149.43 802.46 L1153.26 801.29 L1157.1 800.11 L1160.94 798.94 L1164.77 797.77 L1168.61 796.6 L1172.44 795.42 L1176.28 794.25 L1180.11 793.07 L1183.94 791.89 L1187.78 790.71 L1191.61 789.54 L1195.45 788.36 L1199.28 787.18 L1203.11 785.99 L1206.94 784.81 L1210.78 783.63 L1214.61 782.44 L1218.44 781.26 L1222.27 780.07 L1226.1 778.89 L1229.93 777.7 L1233.76 776.51 L1237.59 775.32 L1241.42 774.13 L1245.25 772.94 L1249.08 771.75 L1252.91 770.55 L1256.74 769.36 L1260.57 768.16 L1264.4 766.97 L1268.22 765.77 L1272.05 764.57 L1275.88 763.37 L1279.71 762.17 L1283.53 760.97 L1287.36 759.77 L1291.18 758.57 L1295.01 757.36 L1298.83 756.16 L1302.66 754.95 L1306.48 753.74 L1310.31 752.53 L1314.13 751.32 L1317.95 750.11 L1321.78 748.9 L1325.6 747.69 L1329.42 746.47 L1333.24 745.26 L1337.07 744.04 L1340.89 742.83 L1344.71 741.61 L1348.53 740.39 L1352.35 739.17 L1356.17 737.95 L1359.99 736.72 L1363.81 735.5 L1367.63 734.27 L1371.44 733.05 L1375.26 731.82 L1379.08 730.59 L1382.9 729.36 L1386.71 728.13 L1390.53 726.89 L1394.35 725.66 L1398.16 724.43 L1401.98 723.19 L1405.79 721.95 L1409.61 720.71 L1413.42 719.47 L1417.23 718.23 L1421.05 716.99 L1424.86 715.75 L1428.67 714.5 L1432.48 713.25 L1436.3 712.01 L1440.11 710.76 L1443.92 709.51 L1447.73 708.26 L1451.54 707 L1455.35 705.75 L1459.16 704.49 L1462.96 703.24 L1466.77 701.98 L1470.58 700.72 L1474.39 699.46 L1478.2 698.19 L1482 696.93 L1485.81 695.67 L1489.61 694.4 L1493.42 693.13 L1497.22 691.86 L1501.03 690.59 L1504.83 689.32 L1508.64 688.05 L1512.44 686.77 L1516.24 685.49 L1520.04 684.22 L1523.84 682.94 L1527.65 681.66 L1531.45 680.37 L1535.25 679.09 L1539.04 677.8 L1542.84 676.51 L1546.64 675.23 L1550.44 673.93 L1554.24 672.64 L1558.03 671.35 L1561.83 670.05 L1565.62 668.75 L1569.42 667.45 L1573.21 666.15 L1577.01 664.85 L1580.8 663.54 L1584.59 662.23 L1588.38 660.93 L1592.17 659.61 L1595.96 658.3 L1599.75 656.99 L1603.54 655.67 L1607.33 654.35 L1611.11 653.03 L1614.9 651.71 L1618.69 650.38 L1622.47 649.05 L1626.25 647.72 L1630.04 646.39 L1633.82 645.06 L1637.6 643.72 L1641.38 642.38 L1645.16 641.04 L1648.94 639.7 L1652.72 638.35 L1656.49 637 L1660.27 635.65 L1664.04 634.3 L1667.82 632.95 L1671.59 631.59 L1675.36 630.23 L1679.14 628.87 L1682.91 627.5 L1686.68 626.14 L1690.44 624.77 L1694.21 623.39 L1697.98 622.02 L1701.74 620.64 L1705.51 619.26 L1709.27 617.88 L1713.03 616.49 L1716.79 615.1 L1720.55 613.71 L1724.31 612.32 L1728.07 610.92 L1731.83 609.52 L1735.58 608.12 L1739.34 606.72 L1743.09 605.31 L1746.84 603.9 L1750.59 602.48 L1754.34 601.07 L1758.09 599.65 L1761.84 598.22 L1765.59 596.8 L1769.33 595.37 L1773.08 593.94 L1776.82 592.5 L1780.56 591.07 L1784.3 589.63 L1788.04 588.18 L1791.78 586.73 L1795.51 585.28 L1799.25 583.83 L1802.98 582.37 L1806.71 580.91 L1810.44 579.45 L1814.17 577.98 L1817.9 576.51 L1821.63 575.04 L1825.35 573.56 L1829.08 572.08 L1832.8 570.6 L1836.52 569.11 L1840.24 567.62 L1843.96 566.13 L1847.68 564.63 L1851.39 563.13 L1855.1 561.63 L1858.82 560.12 L1862.53 558.61 L1866.24 557.09 L1869.95 555.57 L1873.65 554.05 L1877.36 552.52 L1881.06 550.99 L1884.76 549.46 L1888.46 547.92 L1892.16 546.38 L1895.86 544.84 L1899.55 543.29 L1903.25 541.74 L1906.94 540.18 L1910.63 538.62 L1914.32 537.05 L1918 535.49 L1921.69 533.91 L1925.37 532.34 L1929.06 530.76 L1932.74 529.17 L1936.41 527.59 L1940.09 525.99 L1943.77 524.4 L1947.44 522.8 L1951.11 521.19 L1954.78 519.58 L1958.45 517.97 L1962.12 516.35 L1965.78 514.73 L1969.44 513.1 L1973.1 511.47 L1976.76 509.84 L1980.42 508.2 L1981.4 507.9 L2007.3 502.9 L2032.3 504.3 L2058.2 510.5 L2069.8 513.5 L2079.6 504.3 L2098.4 454.3 L2104.6 429.3 L2110.9 403.4 L2116.3 378.4 L2120.7 351.6 L2124.41 326.06 L2129.34 299.27 L2133.62 273.56 L2137.91 247.85 L2142.19 222.14 L2146.48 196.42 L2151.41 169" fill="none" stroke="#336633" stroke-width="6.5" stroke-linejoin="round" stroke-dasharray="13.14 13.14"/>
</g>
<path d="M665.46 1111.9v-9.6M665.46 50.6v9.6M1036.92 1111.9v-9.6M1036.92 50.6v9.6M1408.38 1111.9v-9.6M1408.38 50.6v9.6M1779.84 1111.9v-9.6M1779.84 50.6v9.6M294 168.52h9.6M2151.3 168.52h-9.6M294 463.33h9.6M2151.3 463.33h-9.6M294 758.13h9.6M2151.3 758.13h-9.6M294 1052.94h9.6M2151.3 1052.94h-9.6" stroke="#000" stroke-width="1.3" fill="none"/>
<rect x="294" y="50.6" width="1857.3" height="1061.3" fill="none" stroke="#000" stroke-width="2.2"/>
<text><tspan x="176.5" y="183.27" font-size="67.3" textLength="79.91" lengthAdjust="spacingAndGlyphs">1.0</tspan></text>
<text><tspan x="179.73" y="478.08" font-size="67.3" textLength="78.74" lengthAdjust="spacingAndGlyphs">0.5</tspan></text>
<text><tspan x="179.71" y="772.88" font-size="67.3" textLength="79.27" lengthAdjust="spacingAndGlyphs">0.0</tspan></text>
<text><tspan x="127.38" y="1073.91" font-size="54" textLength="50.46" lengthAdjust="spacingAndGlyphs">−</tspan><tspan x="177.54" y="1073.59" font-size="67.3" textLength="78.42" lengthAdjust="spacingAndGlyphs">0.5</tspan></text>
<text><tspan x="250.76" y="1186.75" font-size="67.3" textLength="81.09" lengthAdjust="spacingAndGlyphs">0.0</tspan></text>
<text><tspan x="623.11" y="1186.75" font-size="67.3" textLength="82.47" lengthAdjust="spacingAndGlyphs">0.2</tspan></text>
<text><tspan x="994.28" y="1186.75" font-size="67.3" textLength="80.44" lengthAdjust="spacingAndGlyphs">0.4</tspan></text>
<text><tspan x="1365.49" y="1186.75" font-size="67.3" textLength="79.87" lengthAdjust="spacingAndGlyphs">0.6</tspan></text>
<text><tspan x="1736.46" y="1186.75" font-size="67.3" textLength="80.88" lengthAdjust="spacingAndGlyphs">0.8</tspan></text>
<text><tspan x="2103.96" y="1186.75" font-size="67.3" textLength="81.81" lengthAdjust="spacingAndGlyphs">1.0</tspan></text>
<text><tspan x="889.67" y="1243.15" font-size="65.6" textLength="284.3" lengthAdjust="spacingAndGlyphs">normalized</tspan> <tspan x="1202.55" y="1243.15" font-size="65.6" textLength="24.54" lengthAdjust="spacingAndGlyphs" font-style="italic">y</tspan> <tspan x="1248.63" y="1243.15" font-size="65.6" textLength="301.36" lengthAdjust="spacingAndGlyphs">coordinates</tspan></text>
<text transform="rotate(-90)"><tspan x="-869.71" y="97.45" font-size="65.6" textLength="280.57" lengthAdjust="spacingAndGlyphs">normalized</tspan> <tspan x="-567.57" y="97.45" font-size="65.6" textLength="30.04" lengthAdjust="spacingAndGlyphs" font-style="italic">v</tspan><tspan x="-534.51" y="106.7" font-size="44.4" textLength="21.65" lengthAdjust="spacingAndGlyphs" font-style="italic" stroke-width="0.5">x</tspan> <tspan x="-490.55" y="97.45" font-size="65.6" textLength="201.09" lengthAdjust="spacingAndGlyphs">velocity</tspan></text>
<rect x="514.6" y="86.4" width="693.1" height="570.1" rx="12" fill="#7f7f7f" stroke="#7f7f7f" stroke-width="2.2"/>
<rect x="511.9" y="83.7" width="693.1" height="570.1" rx="12" fill="#fff" stroke="#000" stroke-width="2.2"/>
<rect x="549.75" y="122.85" width="19.3" height="19.3" fill="#990000" stroke="#000" stroke-width="1.1"/>
<rect x="641.25" y="122.85" width="19.3" height="19.3" fill="#990000" stroke="#000" stroke-width="1.1"/>
<circle cx="559.4" cy="316" r="9.65" fill="#0033ff" stroke="#000" stroke-width="1.1"/>
<circle cx="650.9" cy="316" r="9.65" fill="#0033ff" stroke="#000" stroke-width="1.1"/>
<path d="M549.75 489.75H569.05L559.4 509.05Z" fill="#336633" stroke="#000" stroke-width="1.1"/>
<path d="M641.25 489.75H660.55L650.9 509.05Z" fill="#336633" stroke="#000" stroke-width="1.1"/>
<path d="M558 223.3H649" stroke="#990000" stroke-width="6.5" stroke-dasharray="6.56 10.93 2.19 10.93" fill="none"/>
<path d="M558 406.7H649.6" stroke="#0033ff" stroke-width="6.5" stroke-linecap="square" fill="none"/>
<path d="M558 589.6H650.5" stroke="#336633" stroke-width="6.5" stroke-dasharray="13.1 13.1" fill="none"/>
<text><tspan x="720.6" y="154.85" font-size="68.6" textLength="104.39" lengthAdjust="spacingAndGlyphs">Ref.</tspan> <tspan x="855.61" y="154.85" font-size="68.6" textLength="75.2" lengthAdjust="spacingAndGlyphs" font-style="italic">Re</tspan> <tspan x="945.84" y="156.3" font-size="53.5" textLength="52.03" lengthAdjust="spacingAndGlyphs">=</tspan> <tspan x="1013.4" y="155.35" font-size="67.3" textLength="92.52" lengthAdjust="spacingAndGlyphs">100</tspan></text>
<text><tspan x="720.46" y="248.35" font-size="68.6" textLength="152.63" lengthAdjust="spacingAndGlyphs">FEM,</tspan> <tspan x="896.3" y="248.35" font-size="68.6" textLength="73.88" lengthAdjust="spacingAndGlyphs" font-style="italic">Re</tspan> <tspan x="986.89" y="249.8" font-size="53.5" textLength="52.52" lengthAdjust="spacingAndGlyphs">=</tspan> <tspan x="1053.3" y="248.85" font-size="67.3" textLength="92.52" lengthAdjust="spacingAndGlyphs">100</tspan></text>
<text><tspan x="720.6" y="338.15" font-size="68.6" textLength="104.39" lengthAdjust="spacingAndGlyphs">Ref.</tspan> <tspan x="855.61" y="338.15" font-size="68.6" textLength="75.2" lengthAdjust="spacingAndGlyphs" font-style="italic">Re</tspan> <tspan x="945.84" y="339.6" font-size="53.5" textLength="52.03" lengthAdjust="spacingAndGlyphs">=</tspan> <tspan x="1013.46" y="338.65" font-size="67.3" textLength="122.03" lengthAdjust="spacingAndGlyphs">1000</tspan></text>
<text><tspan x="720.46" y="431.15" font-size="68.6" textLength="152.63" lengthAdjust="spacingAndGlyphs">FEM,</tspan> <tspan x="896.3" y="431.15" font-size="68.6" textLength="73.88" lengthAdjust="spacingAndGlyphs" font-style="italic">Re</tspan> <tspan x="986.89" y="432.6" font-size="53.5" textLength="52.52" lengthAdjust="spacingAndGlyphs">=</tspan> <tspan x="1053.38" y="431.65" font-size="67.3" textLength="121.5" lengthAdjust="spacingAndGlyphs">1000</tspan></text>
<text><tspan x="720.6" y="520.55" font-size="68.6" textLength="104.39" lengthAdjust="spacingAndGlyphs">Ref.</tspan> <tspan x="855.61" y="520.55" font-size="68.6" textLength="75.2" lengthAdjust="spacingAndGlyphs" font-style="italic">Re</tspan> <tspan x="945.84" y="522" font-size="53.5" textLength="52.03" lengthAdjust="spacingAndGlyphs">=</tspan> <tspan x="1013.59" y="521.05" font-size="67.3" textLength="121.89" lengthAdjust="spacingAndGlyphs">5000</tspan></text>
<text><tspan x="720.46" y="614.05" font-size="68.6" textLength="152.63" lengthAdjust="spacingAndGlyphs">FEM,</tspan> <tspan x="896.3" y="614.05" font-size="68.6" textLength="73.88" lengthAdjust="spacingAndGlyphs" font-style="italic">Re</tspan> <tspan x="986.89" y="615.5" font-size="53.5" textLength="52.52" lengthAdjust="spacingAndGlyphs">=</tspan> <tspan x="1053.51" y="614.55" font-size="67.3" textLength="121.37" lengthAdjust="spacingAndGlyphs">5000</tspan></text>
<path d="M294 1722.48H2151.3M294 1899.37H2151.3M294 2076.25H2151.3M294 2253.13H2151.3M294 2430.02H2151.3" stroke="#000" stroke-opacity="0.85" stroke-width="1" stroke-dasharray="1.9 6.86" fill="none"/>
<g clip-path="url(#c2)">
<g><rect x="284.35" y="2066.6" width="19.3" height="19.3" fill="#990000" stroke="#000" stroke-width="1.1"/><rect x="400.43" y="1984.94" width="19.3" height="19.3" fill="#990000" stroke="#000" stroke-width="1.1"/><rect x="414.92" y="1977.35" width="19.3" height="19.3" fill="#990000" stroke="#000" stroke-width="1.1"/><rect x="429.41" y="1970.29" width="19.3" height="19.3" fill="#990000" stroke="#000" stroke-width="1.1"/><rect x="458.56" y="1957.67" width="19.3" height="19.3" fill="#990000" stroke="#000" stroke-width="1.1"/><rect x="574.65" y="1924.41" width="19.3" height="19.3" fill="#990000" stroke="#000" stroke-width="1.1"/><rect x="705.21" y="1911.77" width="19.3" height="19.3" fill="#990000" stroke="#000" stroke-width="1.1"/><rect x="719.7" y="1911.59" width="19.3" height="19.3" fill="#990000" stroke="#000" stroke-width="1.1"/><rect x="1213" y="2018.36" width="19.3" height="19.3" fill="#990000" stroke="#000" stroke-width="1.1"/><rect x="1778.92" y="2283.57" width="19.3" height="19.3" fill="#990000" stroke="#000" stroke-width="1.1"/><rect x="1880.51" y="2265.11" width="19.3" height="19.3" fill="#990000" stroke="#000" stroke-width="1.1"/><rect x="1967.62" y="2216.19" width="19.3" height="19.3" fill="#990000" stroke="#000" stroke-width="1.1"/><rect x="2040.06" y="2157.81" width="19.3" height="19.3" fill="#990000" stroke="#000" stroke-width="1.1"/><rect x="2054.54" y="2144.99" width="19.3" height="19.3" fill="#990000" stroke="#000" stroke-width="1.1"/><rect x="2069.03" y="2131.97" width="19.3" height="19.3" fill="#990000" stroke="#000" stroke-width="1.1"/><rect x="2083.7" y="2118.83" width="19.3" height="19.3" fill="#990000" stroke="#000" stroke-width="1.1"/><rect x="2141.65" y="2066.6" width="19.3" height="19.3" fill="#990000" stroke="#000" stroke-width="1.1"/></g>
<path d="M294 2076 L297.17 2073.41 L300.36 2070.85 L303.56 2068.32 L306.78 2065.81 L310.01 2063.32 L313.25 2060.86 L316.51 2058.43 L319.78 2056.02 L323.06 2053.64 L326.36 2051.28 L329.67 2048.94 L332.99 2046.63 L336.32 2044.35 L339.67 2042.09 L343.03 2039.86 L346.4 2037.65 L349.79 2035.46 L353.18 2033.3 L356.59 2031.17 L360.01 2029.06 L363.45 2026.97 L366.89 2024.9 L370.35 2022.86 L373.82 2020.85 L377.29 2018.86 L380.78 2016.89 L384.29 2014.95 L387.8 2013.03 L391.32 2011.13 L394.86 2009.26 L398.4 2007.41 L401.96 2005.58 L405.52 2003.78 L409.1 2002 L412.68 2000.24 L416.28 1998.5 L419.89 1996.79 L423.5 1995.1 L427.13 1993.44 L430.76 1991.8 L434.41 1990.18 L438.06 1988.58 L441.73 1987 L445.4 1985.45 L449.08 1983.92 L452.77 1982.41 L456.47 1980.92 L460.18 1979.46 L463.9 1978.02 L467.62 1976.6 L471.36 1975.2 L475.1 1973.82 L478.85 1972.46 L482.61 1971.13 L486.37 1969.82 L490.15 1968.53 L493.93 1967.26 L497.72 1966.01 L501.51 1964.78 L505.32 1963.57 L509.13 1962.39 L512.95 1961.22 L516.77 1960.08 L520.6 1958.95 L524.44 1957.85 L528.29 1956.77 L532.14 1955.71 L535.99 1954.67 L539.86 1953.65 L543.73 1952.65 L547.6 1951.66 L551.49 1950.7 L555.37 1949.76 L559.27 1948.84 L563.17 1947.94 L567.07 1947.06 L570.98 1946.2 L574.89 1945.36 L578.81 1944.54 L582.74 1943.73 L586.67 1942.95 L590.6 1942.18 L594.54 1941.44 L598.49 1940.71 L602.43 1940.01 L606.39 1939.32 L610.34 1938.65 L614.3 1938 L618.27 1937.37 L622.23 1936.75 L626.21 1936.16 L630.18 1935.58 L634.16 1935.02 L638.14 1934.48 L642.13 1933.96 L646.11 1933.46 L650.11 1932.97 L654.1 1932.51 L658.1 1932.06 L662.1 1931.62 L666.1 1931.21 L670.1 1930.81 L674.11 1930.43 L678.12 1930.07 L682.13 1929.73 L686.14 1929.4 L690.16 1929.09 L694.17 1928.8 L698.19 1928.52 L702.21 1928.27 L706.23 1928.02 L710.25 1927.8 L714.27 1927.59 L718.3 1927.4 L722.32 1927.22 L726.35 1927.07 L730.37 1926.92 L734.4 1926.8 L738.43 1926.69 L742.45 1926.6 L746.48 1926.52 L750.51 1926.46 L754.54 1926.41 L758.56 1926.38 L762.59 1926.37 L766.62 1926.37 L770.64 1926.39 L774.67 1926.42 L778.69 1926.47 L782.72 1926.53 L786.74 1926.61 L790.76 1926.71 L794.79 1926.82 L798.81 1926.94 L802.83 1927.08 L806.85 1927.24 L810.86 1927.41 L814.88 1927.59 L818.9 1927.8 L822.91 1928.01 L826.93 1928.24 L830.94 1928.49 L834.95 1928.75 L838.96 1929.02 L842.97 1929.31 L846.98 1929.62 L850.98 1929.94 L854.99 1930.27 L858.99 1930.62 L862.99 1930.99 L866.99 1931.36 L870.99 1931.76 L874.99 1932.17 L878.99 1932.59 L882.98 1933.02 L886.97 1933.47 L890.96 1933.94 L894.95 1934.42 L898.94 1934.91 L902.93 1935.42 L906.91 1935.94 L910.89 1936.48 L914.87 1937.03 L918.85 1937.59 L922.82 1938.17 L926.8 1938.76 L930.77 1939.36 L934.74 1939.98 L938.7 1940.62 L942.67 1941.26 L946.63 1941.93 L950.59 1942.6 L954.55 1943.29 L958.5 1943.99 L962.46 1944.71 L966.41 1945.43 L970.36 1946.18 L974.3 1946.93 L978.24 1947.7 L982.18 1948.49 L986.12 1949.28 L990.06 1950.09 L993.99 1950.91 L997.92 1951.75 L1001.85 1952.6 L1005.77 1953.46 L1009.69 1954.33 L1013.61 1955.22 L1017.52 1956.12 L1021.44 1957.04 L1025.34 1957.97 L1029.25 1958.91 L1033.15 1959.86 L1037.05 1960.82 L1040.95 1961.8 L1044.84 1962.79 L1048.73 1963.8 L1052.62 1964.81 L1056.5 1965.84 L1060.38 1966.88 L1064.26 1967.94 L1068.13 1969 L1072 1970.08 L1075.87 1971.17 L1079.73 1972.28 L1083.59 1973.39 L1087.45 1974.52 L1091.3 1975.66 L1095.15 1976.81 L1098.99 1977.98 L1102.83 1979.15 L1106.67 1980.34 L1110.5 1981.54 L1114.33 1982.76 L1118.16 1983.98 L1121.98 1985.22 L1125.8 1986.47 L1129.61 1987.73 L1133.42 1989 L1137.22 1990.28 L1141.02 1991.58 L1144.82 1992.88 L1148.61 1994.2 L1152.4 1995.53 L1156.18 1996.87 L1159.96 1998.23 L1163.74 1999.59 L1167.51 2000.97 L1171.27 2002.35 L1175.04 2003.75 L1178.79 2005.16 L1182.54 2006.58 L1186.29 2008.02 L1190.03 2009.46 L1193.77 2010.91 L1197.51 2012.38 L1201.24 2013.85 L1204.96 2015.34 L1208.68 2016.84 L1212.39 2018.35 L1216.1 2019.87 L1219.81 2021.4 L1223.51 2022.94 L1227.2 2024.5 L1230.89 2026.06 L1234.57 2027.63 L1238.25 2029.22 L1241.93 2030.81 L1245.59 2032.42 L1249.26 2034.03 L1252.92 2035.66 L1256.57 2037.3 L1260.21 2038.94 L1263.86 2040.6 L1267.49 2042.27 L1271.12 2043.95 L1274.75 2045.64 L1278.37 2047.33 L1281.98 2049.04 L1285.59 2050.76 L1289.19 2052.49 L1292.79 2054.23 L1296.38 2055.98 L1299.97 2057.73 L1303.55 2059.5 L1307.12 2061.28 L1310.69 2063.07 L1314.26 2064.86 L1317.82 2066.66 L1321.38 2068.48 L1324.93 2070.3 L1328.48 2072.13 L1332.02 2073.97 L1335.56 2075.81 L1339.09 2077.67 L1342.62 2079.53 L1346.15 2081.4 L1349.67 2083.28 L1353.19 2085.16 L1356.71 2087.05 L1360.22 2088.95 L1363.73 2090.86 L1367.24 2092.77 L1370.74 2094.69 L1374.24 2096.62 L1377.74 2098.55 L1381.23 2100.49 L1384.73 2102.43 L1388.22 2104.38 L1391.71 2106.34 L1395.19 2108.3 L1398.68 2110.27 L1402.16 2112.24 L1405.64 2114.22 L1409.12 2116.2 L1412.6 2118.19 L1416.08 2120.18 L1419.55 2122.18 L1423.03 2124.18 L1426.5 2126.19 L1429.98 2128.2 L1433.45 2130.21 L1436.92 2132.23 L1440.39 2134.25 L1443.86 2136.27 L1447.34 2138.3 L1450.81 2140.33 L1454.28 2142.37 L1457.75 2144.4 L1461.22 2146.44 L1464.69 2148.49 L1468.17 2150.53 L1471.64 2152.58 L1475.11 2154.63 L1478.59 2156.68 L1482.07 2158.73 L1485.54 2160.79 L1489.02 2162.84 L1492.5 2164.9 L1495.99 2166.96 L1499.47 2169.02 L1502.96 2171.08 L1506.44 2173.14 L1509.93 2175.2 L1513.43 2177.27 L1516.92 2179.33 L1520.42 2181.39 L1523.92 2183.46 L1527.42 2185.52 L1530.92 2187.58 L1534.43 2189.64 L1537.94 2191.7 L1541.46 2193.76 L1544.98 2195.82 L1548.5 2197.87 L1552.02 2199.92 L1555.55 2201.96 L1559.08 2203.99 L1562.62 2206.02 L1566.16 2208.04 L1569.71 2210.05 L1573.25 2212.05 L1576.81 2214.05 L1580.37 2216.03 L1583.93 2217.99 L1587.5 2219.95 L1591.07 2221.89 L1594.65 2223.82 L1598.23 2225.73 L1601.82 2227.63 L1605.41 2229.51 L1609.01 2231.37 L1612.61 2233.22 L1616.22 2235.05 L1619.84 2236.85 L1623.46 2238.64 L1627.09 2240.4 L1630.73 2242.14 L1634.37 2243.86 L1638.02 2245.55 L1641.67 2247.22 L1645.33 2248.87 L1649 2250.49 L1652.67 2252.08 L1656.36 2253.64 L1660.05 2255.17 L1663.74 2256.68 L1667.45 2258.15 L1671.16 2259.6 L1674.88 2261.01 L1678.6 2262.39 L1682.34 2263.73 L1686.08 2265.05 L1689.83 2266.32 L1693.59 2267.56 L1697.36 2268.77 L1701.14 2269.93 L1704.93 2271.06 L1708.72 2272.15 L1712.52 2273.2 L1716.34 2274.21 L1720.16 2275.17 L1723.99 2276.1 L1727.83 2276.98 L1731.68 2277.82 L1735.54 2278.61 L1739.41 2279.36 L1743.29 2280.06 L1747.18 2280.71 L1751.08 2281.32 L1754.99 2281.88 L1758.91 2282.39 L1762.84 2282.85 L1766.78 2283.25 L1770.72 2283.61 L1774.68 2283.92 L1778.64 2284.18 L1782.6 2284.39 L1786.58 2284.55 L1790.55 2284.66 L1794.53 2284.72 L1798.51 2284.73 L1802.5 2284.69 L1806.48 2284.6 L1810.47 2284.46 L1814.46 2284.26 L1818.44 2284.02 L1822.42 2283.73 L1826.41 2283.38 L1830.38 2282.99 L1834.36 2282.54 L1838.32 2282.05 L1842.29 2281.5 L1846.24 2280.9 L1850.19 2280.25 L1854.13 2279.55 L1858.06 2278.8 L1861.98 2277.99 L1865.9 2277.14 L1869.8 2276.23 L1873.69 2275.27 L1877.56 2274.26 L1881.42 2273.2 L1885.27 2272.09 L1889.11 2270.92 L1892.92 2269.71 L1896.73 2268.44 L1900.51 2267.12 L1904.28 2265.74 L1908.02 2264.32 L1911.75 2262.84 L1915.46 2261.32 L1919.15 2259.75 L1922.83 2258.12 L1926.48 2256.46 L1930.12 2254.74 L1933.74 2252.99 L1937.34 2251.19 L1940.92 2249.35 L1944.48 2247.47 L1948.03 2245.54 L1951.55 2243.58 L1955.06 2241.59 L1958.55 2239.56 L1962.02 2237.49 L1965.48 2235.39 L1968.91 2233.25 L1972.33 2231.09 L1975.73 2228.89 L1979.12 2226.67 L1982.48 2224.41 L1985.83 2222.13 L1989.16 2219.83 L1992.47 2217.5 L1995.76 2215.14 L1999.04 2212.77 L2002.3 2210.37 L2005.54 2207.95 L2008.77 2205.51 L2011.98 2203.05 L2015.17 2200.58 L2018.35 2198.08 L2021.51 2195.57 L2024.66 2193.03 L2027.79 2190.49 L2030.91 2187.92 L2034.01 2185.34 L2037.11 2182.75 L2040.19 2180.14 L2043.25 2177.52 L2046.31 2174.88 L2049.35 2172.23 L2052.38 2169.57 L2055.4 2166.9 L2058.41 2164.21 L2061.41 2161.52 L2064.4 2158.82 L2067.38 2156.11 L2070.36 2153.38 L2073.32 2150.66 L2076.27 2147.92 L2079.22 2145.18 L2082.16 2142.43 L2085.09 2139.67 L2088.01 2136.92 L2090.93 2134.15 L2093.85 2131.38 L2096.75 2128.61 L2099.65 2125.84 L2102.55 2123.06 L2105.44 2120.29 L2108.33 2117.51 L2111.21 2114.73 L2114.09 2111.95 L2116.97 2109.18 L2119.85 2106.4 L2122.72 2103.63 L2125.59 2100.86 L2128.46 2098.09 L2131.33 2095.33 L2134.2 2092.57 L2137.06 2089.82 L2139.93 2087.07 L2142.8 2084.32 L2145.67 2081.59 L2148.54 2078.86 L2151.41 2076.14" fill="none" stroke="#990000" stroke-width="6.5" stroke-linejoin="round" stroke-dasharray="6.58 10.965 2.195 10.965"/>
<g><circle cx="294" cy="2076.25" r="9.65" fill="#0033ff" stroke="#000" stroke-width="1.1"/><circle cx="410.08" cy="1833.17" r="9.65" fill="#0033ff" stroke="#000" stroke-width="1.1"/><circle cx="424.57" cy="1819.66" r="9.65" fill="#0033ff" stroke="#000" stroke-width="1.1"/><circle cx="439.06" cy="1807.8" r="9.65" fill="#0033ff" stroke="#000" stroke-width="1.1"/><circle cx="468.21" cy="1787.69" r="9.65" fill="#0033ff" stroke="#000" stroke-width="1.1"/><circle cx="584.3" cy="1748.18" r="9.65" fill="#0033ff" stroke="#000" stroke-width="1.1"/><circle cx="714.86" cy="1783.73" r="9.65" fill="#0033ff" stroke="#000" stroke-width="1.1"/><circle cx="729.35" cy="1791.16" r="9.65" fill="#0033ff" stroke="#000" stroke-width="1.1"/><circle cx="1222.65" cy="2053.91" r="9.65" fill="#0033ff" stroke="#000" stroke-width="1.1"/><circle cx="1788.57" cy="2358.96" r="9.65" fill="#0033ff" stroke="#000" stroke-width="1.1"/><circle cx="1890.16" cy="2453.59" r="9.65" fill="#0033ff" stroke="#000" stroke-width="1.1"/><circle cx="1977.27" cy="2532.17" r="9.65" fill="#0033ff" stroke="#000" stroke-width="1.1"/><circle cx="2049.71" cy="2422.84" r="9.65" fill="#0033ff" stroke="#000" stroke-width="1.1"/><circle cx="2064.19" cy="2374.42" r="9.65" fill="#0033ff" stroke="#000" stroke-width="1.1"/><circle cx="2078.68" cy="2320.96" r="9.65" fill="#0033ff" stroke="#000" stroke-width="1.1"/><circle cx="2093.35" cy="2265.41" r="9.65" fill="#0033ff" stroke="#000" stroke-width="1.1"/><circle cx="2151.3" cy="2076.25" r="9.65" fill="#0033ff" stroke="#000" stroke-width="1.1"/></g>
<path d="M294 2076 L295.5 2072.19 L297.01 2068.39 L298.54 2064.59 L300.08 2060.8 L301.64 2057.01 L303.21 2053.23 L304.79 2049.45 L306.39 2045.67 L308 2041.9 L309.62 2038.14 L311.26 2034.38 L312.91 2030.62 L314.58 2026.88 L316.26 2023.13 L317.95 2019.39 L319.66 2015.66 L321.38 2011.94 L323.12 2008.22 L324.86 2004.5 L326.63 2000.8 L328.4 1997.1 L330.2 1993.4 L332 1989.71 L333.82 1986.03 L335.65 1982.36 L337.5 1978.69 L339.36 1975.03 L341.23 1971.38 L343.12 1967.73 L345.03 1964.09 L346.94 1960.46 L348.87 1956.84 L350.82 1953.22 L352.78 1949.62 L354.75 1946.02 L356.74 1942.43 L358.74 1938.84 L360.75 1935.27 L362.78 1931.7 L364.82 1928.14 L366.88 1924.6 L368.95 1921.06 L371.03 1917.52 L373.13 1914 L375.25 1910.49 L377.37 1906.99 L379.51 1903.49 L381.67 1900.01 L383.84 1896.53 L386.02 1893.07 L388.22 1889.61 L390.43 1886.17 L392.66 1882.73 L394.9 1879.31 L397.15 1875.89 L399.42 1872.49 L401.7 1869.1 L404 1865.71 L406.85 1862.96 L409.74 1860.22 L412.67 1857.52 L415.63 1854.84 L418.63 1852.18 L421.67 1849.56 L424.74 1846.97 L427.85 1844.4 L430.99 1841.87 L434.16 1839.36 L437.37 1836.89 L440.6 1834.46 L443.87 1832.05 L447.17 1829.68 L450.5 1827.35 L453.85 1825.05 L457.24 1822.79 L460.65 1820.56 L464.09 1818.37 L467.55 1816.23 L471.04 1814.12 L474.56 1812.05 L478.1 1810.02 L481.66 1808.04 L485.24 1806.09 L488.85 1804.2 L492.48 1802.34 L496.12 1800.53 L499.79 1798.76 L503.48 1797.04 L507.18 1795.37 L510.9 1793.75 L514.64 1792.17 L518.4 1790.65 L522.17 1789.17 L525.95 1787.74 L529.75 1786.37 L533.56 1785.05 L537.39 1783.78 L541.23 1782.56 L545.07 1781.4 L548.93 1780.3 L552.8 1779.25 L556.68 1778.25 L560.56 1777.32 L564.46 1776.44 L568.36 1775.62 L572.26 1774.86 L576.18 1774.16 L580.09 1773.52 L584.02 1772.95 L587.94 1772.44 L591.87 1771.99 L595.8 1771.6 L599.73 1771.28 L603.66 1771.02 L607.59 1770.83 L611.52 1770.71 L615.45 1770.66 L619.38 1770.67 L623.3 1770.76 L627.22 1770.91 L631.14 1771.13 L635.05 1771.43 L638.96 1771.79 L642.86 1772.21 L646.76 1772.71 L650.65 1773.26 L654.54 1773.88 L658.42 1774.56 L662.29 1775.29 L666.16 1776.09 L670.02 1776.94 L673.88 1777.85 L677.73 1778.81 L681.57 1779.82 L685.4 1780.88 L689.23 1781.99 L693.05 1783.15 L696.86 1784.36 L700.66 1785.61 L704.45 1786.9 L708.24 1788.24 L712.01 1789.62 L715.78 1791.04 L719.54 1792.49 L723.29 1793.98 L727.02 1795.51 L730.75 1797.07 L734.47 1798.66 L738.18 1800.29 L741.88 1801.94 L745.56 1803.62 L749.24 1805.33 L752.9 1807.06 L756.56 1808.82 L760.21 1810.59 L763.84 1812.39 L767.47 1814.21 L771.1 1816.05 L774.71 1817.91 L778.32 1819.78 L781.92 1821.66 L785.51 1823.56 L789.1 1825.47 L792.68 1827.39 L796.25 1829.31 L799.83 1831.25 L803.39 1833.19 L806.95 1835.13 L810.51 1837.08 L814.07 1839.03 L817.62 1840.98 L821.17 1842.92 L824.72 1844.87 L828.26 1846.81 L831.81 1848.75 L835.35 1850.69 L838.89 1852.62 L842.43 1854.55 L845.96 1856.48 L849.5 1858.4 L853.03 1860.33 L856.57 1862.25 L860.1 1864.17 L863.63 1866.08 L867.16 1867.99 L870.69 1869.9 L874.22 1871.81 L877.75 1873.71 L881.28 1875.62 L884.81 1877.52 L888.34 1879.41 L891.87 1881.31 L895.4 1883.2 L898.93 1885.09 L902.46 1886.98 L905.99 1888.86 L909.52 1890.74 L913.06 1892.63 L916.59 1894.5 L920.12 1896.38 L923.66 1898.25 L927.2 1900.13 L930.74 1901.99 L934.28 1903.86 L937.82 1905.73 L941.36 1907.59 L944.91 1909.45 L948.46 1911.31 L952 1913.17 L955.55 1915.02 L959.1 1916.88 L962.65 1918.73 L966.21 1920.58 L969.76 1922.42 L973.32 1924.27 L976.87 1926.11 L980.43 1927.96 L983.99 1929.8 L987.55 1931.63 L991.11 1933.47 L994.67 1935.31 L998.24 1937.14 L1001.8 1938.97 L1005.37 1940.8 L1008.94 1942.63 L1012.5 1944.46 L1016.07 1946.28 L1019.64 1948.11 L1023.22 1949.93 L1026.79 1951.75 L1030.36 1953.57 L1033.94 1955.39 L1037.51 1957.21 L1041.09 1959.02 L1044.66 1960.84 L1048.24 1962.65 L1051.82 1964.46 L1055.4 1966.27 L1058.98 1968.08 L1062.56 1969.89 L1066.14 1971.7 L1069.73 1973.5 L1073.31 1975.31 L1076.89 1977.11 L1080.48 1978.91 L1084.06 1980.71 L1087.65 1982.51 L1091.24 1984.31 L1094.83 1986.11 L1098.42 1987.91 L1102 1989.71 L1105.59 1991.5 L1109.18 1993.3 L1112.78 1995.09 L1116.37 1996.89 L1119.96 1998.68 L1123.55 2000.47 L1127.15 2002.26 L1130.74 2004.05 L1134.33 2005.84 L1137.93 2007.63 L1141.52 2009.42 L1145.12 2011.21 L1148.71 2013 L1152.31 2014.78 L1155.91 2016.57 L1159.5 2018.35 L1163.1 2020.14 L1166.7 2021.93 L1170.3 2023.71 L1173.9 2025.49 L1177.49 2027.28 L1181.09 2029.06 L1184.69 2030.85 L1188.29 2032.63 L1191.89 2034.41 L1195.49 2036.2 L1199.09 2037.98 L1202.69 2039.76 L1206.29 2041.54 L1209.89 2043.33 L1213.49 2045.11 L1217.09 2046.89 L1220.69 2048.67 L1224.29 2050.45 L1227.89 2052.24 L1231.49 2054.02 L1235.1 2055.8 L1238.7 2057.58 L1242.3 2059.37 L1245.9 2061.15 L1249.5 2062.93 L1253.1 2064.71 L1256.7 2066.5 L1260.3 2068.28 L1263.9 2070.06 L1267.5 2071.85 L1271.1 2073.63 L1274.7 2075.42 L1278.3 2077.2 L1281.9 2078.99 L1285.5 2080.78 L1289.09 2082.56 L1292.69 2084.35 L1296.29 2086.14 L1299.89 2087.93 L1303.49 2089.71 L1307.08 2091.5 L1310.68 2093.29 L1314.28 2095.09 L1317.87 2096.88 L1321.47 2098.67 L1325.06 2100.46 L1328.66 2102.26 L1332.25 2104.05 L1335.85 2105.85 L1339.44 2107.64 L1343.03 2109.44 L1346.62 2111.24 L1350.22 2113.04 L1353.81 2114.84 L1357.4 2116.64 L1360.99 2118.44 L1364.58 2120.24 L1368.17 2122.05 L1371.75 2123.85 L1375.34 2125.66 L1378.93 2127.46 L1382.51 2129.27 L1386.1 2131.08 L1389.68 2132.89 L1393.27 2134.7 L1396.85 2136.52 L1400.43 2138.33 L1404.01 2140.15 L1407.59 2141.97 L1411.17 2143.79 L1414.75 2145.61 L1418.33 2147.43 L1421.91 2149.25 L1425.48 2151.07 L1429.06 2152.9 L1432.64 2154.73 L1436.21 2156.56 L1439.78 2158.38 L1443.36 2160.22 L1446.93 2162.05 L1450.5 2163.88 L1454.07 2165.71 L1457.64 2167.55 L1461.21 2169.38 L1464.78 2171.22 L1468.35 2173.06 L1471.91 2174.9 L1475.48 2176.73 L1479.05 2178.57 L1482.62 2180.41 L1486.18 2182.25 L1489.75 2184.1 L1493.31 2185.94 L1496.88 2187.78 L1500.45 2189.62 L1504.01 2191.47 L1507.58 2193.31 L1511.14 2195.15 L1514.7 2197 L1518.27 2198.84 L1521.83 2200.69 L1525.4 2202.53 L1528.96 2204.38 L1532.53 2206.22 L1536.09 2208.07 L1539.66 2209.91 L1543.22 2211.75 L1546.78 2213.6 L1550.35 2215.44 L1553.91 2217.29 L1557.48 2219.13 L1561.04 2220.97 L1564.61 2222.82 L1568.18 2224.66 L1571.74 2226.5 L1575.31 2228.34 L1578.88 2230.18 L1582.44 2232.03 L1586.01 2233.86 L1589.58 2235.7 L1593.15 2237.54 L1596.72 2239.38 L1600.29 2241.22 L1603.86 2243.05 L1607.43 2244.89 L1611 2246.72 L1614.57 2248.56 L1618.15 2250.39 L1621.72 2252.22 L1625.29 2254.05 L1628.87 2255.88 L1632.44 2257.71 L1636.02 2259.54 L1639.59 2261.37 L1643.16 2263.2 L1646.74 2265.03 L1650.31 2266.87 L1653.88 2268.71 L1657.44 2270.56 L1661.01 2272.4 L1664.57 2274.26 L1668.13 2276.11 L1671.68 2277.98 L1675.23 2279.85 L1678.78 2281.72 L1682.32 2283.61 L1685.86 2285.5 L1689.4 2287.4 L1692.92 2289.31 L1696.45 2291.23 L1699.96 2293.16 L1703.47 2295.1 L1706.98 2297.05 L1710.47 2299.01 L1713.96 2300.99 L1717.45 2302.97 L1720.92 2304.97 L1724.39 2306.99 L1727.85 2309.01 L1731.3 2311.06 L1734.74 2313.12 L1738.17 2315.19 L1741.59 2317.28 L1745 2319.39 L1748.4 2321.51 L1751.79 2323.66 L1755.17 2325.82 L1758.54 2328 L1761.89 2330.2 L1765.24 2332.42 L1768.57 2334.66 L1771.89 2336.92 L1775.19 2339.21 L1778.49 2341.51 L1781.77 2343.84 L1785.03 2346.2 L1788.29 2348.57 L1818.29 2374.29 L1846.86 2402.86 L1869.71 2430 L1891.14 2454.29 L1909.71 2474.29 L1926.86 2492.86 L1965.43 2505.71 L1982.57 2502.86 L2001.14 2491.43 L2021.14 2457.14 L2036.29 2425.71 L2051.43 2382.86 L2066 2334.29 L2080.29 2291.43 L2091.71 2255.71 L2102.86 2224.29 L2112.62 2195.7 L2122.91 2163.56 L2131.27 2135.71 L2139.62 2107.85 L2147.76 2080 L2151.41 2076.14" fill="none" stroke="#0033ff" stroke-width="6.5" stroke-linejoin="round"/>
<g><path d="M284.35 2066.6H303.65L294 2085.9Z" fill="#336633" stroke="#000" stroke-width="1.1"/><path d="M400.43 1691.19H419.73L410.08 1710.49Z" fill="#336633" stroke="#000" stroke-width="1.1"/><path d="M414.92 1683.39H434.22L424.57 1702.69Z" fill="#336633" stroke="#000" stroke-width="1.1"/><path d="M429.41 1680.57H448.71L439.06 1699.87Z" fill="#336633" stroke="#000" stroke-width="1.1"/><path d="M458.56 1686.73H477.86L468.21 1706.03Z" fill="#336633" stroke="#000" stroke-width="1.1"/><path d="M574.65 1753.8H593.95L584.3 1773.1Z" fill="#336633" stroke="#000" stroke-width="1.1"/><path d="M705.21 1818.38H724.51L714.86 1837.68Z" fill="#336633" stroke="#000" stroke-width="1.1"/><path d="M719.7 1825.33H739L729.35 1844.63Z" fill="#336633" stroke="#000" stroke-width="1.1"/><path d="M1213 2058.24H1232.3L1222.65 2077.54Z" fill="#336633" stroke="#000" stroke-width="1.1"/><path d="M1778.92 2332.08H1798.22L1788.57 2351.38Z" fill="#336633" stroke="#000" stroke-width="1.1"/><path d="M1880.51 2386.88H1899.81L1890.16 2406.18Z" fill="#336633" stroke="#000" stroke-width="1.1"/><path d="M1967.62 2442.74H1986.92L1977.27 2462.04Z" fill="#336633" stroke="#000" stroke-width="1.1"/><path d="M2040.06 2534.24H2059.36L2049.71 2553.54Z" fill="#336633" stroke="#000" stroke-width="1.1"/><path d="M2054.54 2556.64H2073.84L2064.19 2575.94Z" fill="#336633" stroke="#000" stroke-width="1.1"/><path d="M2069.03 2553.64H2088.33L2078.68 2572.94Z" fill="#336633" stroke="#000" stroke-width="1.1"/><path d="M2083.7 2506.81H2103L2093.35 2526.11Z" fill="#336633" stroke="#000" stroke-width="1.1"/><path d="M2141.65 2066.6H2160.95L2151.3 2085.9Z" fill="#336633" stroke="#000" stroke-width="1.1"/></g>
<path d="M294 2076 L294.81 2072.06 L295.62 2068.12 L296.43 2064.17 L297.24 2060.22 L298.04 2056.27 L298.85 2052.31 L299.66 2048.35 L300.47 2044.39 L301.28 2040.42 L302.09 2036.45 L302.91 2032.48 L303.73 2028.51 L304.55 2024.53 L305.38 2020.55 L306.21 2016.58 L307.04 2012.6 L307.89 2008.62 L308.73 2004.64 L309.58 2000.65 L310.44 1996.67 L311.31 1992.69 L312.18 1988.71 L313.06 1984.74 L313.95 1980.76 L314.85 1976.78 L315.76 1972.81 L316.68 1968.83 L317.61 1964.86 L318.55 1960.89 L319.49 1956.93 L320.46 1952.97 L321.43 1949.01 L322.41 1945.05 L323.41 1941.1 L324.42 1937.15 L325.45 1933.21 L326.49 1929.27 L327.54 1925.33 L328.61 1921.4 L329.69 1917.48 L330.79 1913.56 L331.91 1909.64 L333.04 1905.74 L334.19 1901.84 L335.36 1897.94 L336.55 1894.05 L337.75 1890.17 L338.98 1886.3 L340.22 1882.43 L341.48 1878.58 L342.77 1874.73 L344.07 1870.89 L345.4 1867.05 L346.74 1863.23 L348.11 1859.42 L349.51 1855.61 L350.92 1851.82 L352.36 1848.03 L353.82 1844.25 L355.31 1840.49 L356.82 1836.74 L358.36 1832.99 L359.92 1829.26 L361.51 1825.54 L363.13 1821.83 L364.77 1818.14 L366.44 1814.45 L368.14 1810.78 L369.87 1807.12 L371.62 1803.48 L373.41 1799.85 L375.22 1796.23 L377.07 1792.62 L378.94 1789.03 L380.85 1785.46 L382.79 1781.89 L384.76 1778.35 L386.76 1774.82 L388.79 1771.3 L390.86 1767.8 L392.97 1764.32 L395.1 1760.85 L397.27 1757.4 L399.48 1753.96 L401.72 1750.54 L404 1747.14 L428 1733 L454.7 1714.5 L458.82 1713.44 L462.91 1712.55 L466.97 1711.83 L471 1711.26 L475 1710.85 L478.97 1710.58 L482.92 1710.47 L486.83 1710.49 L490.73 1710.64 L494.59 1710.93 L498.44 1711.34 L502.26 1711.87 L506.06 1712.52 L509.84 1713.27 L513.6 1714.13 L517.34 1715.09 L521.07 1716.15 L524.77 1717.29 L528.46 1718.53 L532.14 1719.84 L535.8 1721.23 L539.44 1722.68 L543.08 1724.21 L546.7 1725.79 L550.32 1727.43 L553.92 1729.13 L557.51 1730.86 L561.1 1732.64 L564.68 1734.46 L568.26 1736.31 L571.83 1738.18 L575.39 1740.08 L578.96 1741.99 L582.52 1743.91 L586.08 1745.84 L589.64 1747.77 L593.2 1749.7 L596.76 1751.62 L600.32 1753.54 L603.89 1755.45 L607.46 1757.35 L611.02 1759.25 L614.59 1761.13 L618.16 1763.02 L621.74 1764.89 L625.31 1766.77 L628.88 1768.63 L632.46 1770.49 L636.04 1772.35 L639.61 1774.2 L643.19 1776.04 L646.77 1777.88 L650.35 1779.72 L653.93 1781.55 L657.52 1783.38 L661.1 1785.21 L664.69 1787.03 L668.27 1788.85 L671.86 1790.66 L675.45 1792.48 L679.03 1794.29 L682.62 1796.09 L686.21 1797.9 L689.8 1799.7 L693.39 1801.5 L696.98 1803.3 L700.57 1805.1 L704.16 1806.89 L707.76 1808.69 L711.35 1810.48 L714.94 1812.28 L718.53 1814.07 L722.13 1815.86 L725.72 1817.65 L729.32 1819.44 L732.91 1821.23 L736.5 1823.02 L740.1 1824.81 L743.7 1826.6 L747.29 1828.39 L750.89 1830.18 L754.48 1831.96 L758.08 1833.75 L761.68 1835.53 L765.27 1837.32 L768.87 1839.1 L772.47 1840.89 L776.07 1842.67 L779.66 1844.45 L783.26 1846.24 L786.86 1848.02 L790.46 1849.8 L794.06 1851.58 L797.66 1853.36 L801.26 1855.14 L804.86 1856.92 L808.46 1858.7 L812.06 1860.48 L815.66 1862.26 L819.26 1864.03 L822.86 1865.81 L826.46 1867.59 L830.06 1869.37 L833.66 1871.14 L837.27 1872.92 L840.87 1874.69 L844.47 1876.47 L848.07 1878.25 L851.68 1880.02 L855.28 1881.79 L858.88 1883.57 L862.48 1885.34 L866.09 1887.12 L869.69 1888.89 L873.29 1890.66 L876.9 1892.43 L880.5 1894.21 L884.1 1895.98 L887.71 1897.75 L891.31 1899.52 L894.92 1901.29 L898.52 1903.06 L902.13 1904.84 L905.73 1906.61 L909.33 1908.38 L912.94 1910.15 L916.54 1911.92 L920.15 1913.69 L923.75 1915.46 L927.36 1917.23 L930.96 1919 L934.57 1920.77 L938.18 1922.54 L941.78 1924.31 L945.39 1926.08 L948.99 1927.84 L952.6 1929.61 L956.2 1931.38 L959.81 1933.15 L963.42 1934.92 L967.02 1936.69 L970.63 1938.46 L974.23 1940.23 L977.84 1942 L981.44 1943.76 L985.05 1945.53 L988.66 1947.3 L992.26 1949.07 L995.87 1950.84 L999.47 1952.61 L1003.08 1954.38 L1006.69 1956.15 L1010.29 1957.91 L1013.9 1959.68 L1017.5 1961.45 L1021.11 1963.22 L1024.72 1964.99 L1028.32 1966.76 L1031.93 1968.53 L1035.53 1970.3 L1039.14 1972.07 L1042.75 1973.84 L1046.35 1975.61 L1049.96 1977.38 L1053.56 1979.15 L1057.17 1980.92 L1060.77 1982.69 L1064.38 1984.46 L1067.98 1986.23 L1071.59 1988.01 L1075.2 1989.78 L1078.8 1991.55 L1082.41 1993.32 L1086.01 1995.09 L1089.61 1996.87 L1093.22 1998.64 L1096.82 2000.41 L1100.43 2002.18 L1104.03 2003.96 L1107.64 2005.73 L1111.24 2007.51 L1114.85 2009.28 L1118.45 2011.06 L1122.05 2012.83 L1125.66 2014.61 L1129.26 2016.38 L1132.86 2018.16 L1136.47 2019.93 L1140.07 2021.71 L1143.67 2023.49 L1147.28 2025.27 L1150.88 2027.04 L1154.48 2028.82 L1158.08 2030.6 L1161.68 2032.38 L1165.29 2034.16 L1168.89 2035.94 L1172.49 2037.72 L1176.09 2039.5 L1179.69 2041.28 L1183.29 2043.06 L1186.89 2044.84 L1190.49 2046.62 L1194.1 2048.41 L1197.7 2050.19 L1201.3 2051.97 L1204.9 2053.76 L1208.5 2055.54 L1212.09 2057.32 L1215.69 2059.11 L1219.29 2060.89 L1222.89 2062.68 L1226.49 2064.47 L1230.09 2066.25 L1233.69 2068.04 L1237.28 2069.83 L1240.88 2071.62 L1244.48 2073.41 L1248.08 2075.2 L1251.67 2076.99 L1255.27 2078.78 L1258.87 2080.57 L1262.46 2082.36 L1266.06 2084.15 L1269.66 2085.94 L1273.25 2087.74 L1276.85 2089.53 L1280.44 2091.32 L1284.04 2093.12 L1287.63 2094.91 L1291.22 2096.71 L1294.82 2098.5 L1298.41 2100.3 L1302 2102.1 L1305.6 2103.9 L1309.19 2105.7 L1312.78 2107.5 L1316.37 2109.3 L1319.97 2111.1 L1323.56 2112.9 L1327.15 2114.7 L1330.74 2116.5 L1334.33 2118.3 L1337.92 2120.11 L1341.51 2121.91 L1345.1 2123.72 L1348.69 2125.52 L1352.28 2127.33 L1355.87 2129.14 L1359.45 2130.94 L1363.04 2132.75 L1366.63 2134.56 L1370.22 2136.37 L1373.8 2138.18 L1377.39 2139.99 L1380.98 2141.8 L1384.56 2143.62 L1388.15 2145.43 L1391.73 2147.24 L1395.32 2149.06 L1398.9 2150.87 L1402.48 2152.69 L1406.07 2154.51 L1409.65 2156.32 L1413.23 2158.14 L1416.82 2159.96 L1420.4 2161.78 L1423.98 2163.6 L1427.56 2165.42 L1431.14 2167.25 L1434.72 2169.07 L1438.3 2170.89 L1441.88 2172.72 L1445.46 2174.54 L1449.04 2176.37 L1452.62 2178.2 L1456.2 2180.02 L1459.77 2181.85 L1463.35 2183.68 L1466.93 2185.51 L1470.5 2187.34 L1474.08 2189.17 L1477.65 2191.01 L1481.23 2192.84 L1484.8 2194.68 L1488.38 2196.51 L1491.95 2198.35 L1495.52 2200.19 L1499.1 2202.02 L1502.67 2203.86 L1506.24 2205.7 L1509.81 2207.54 L1513.38 2209.38 L1516.95 2211.23 L1520.52 2213.07 L1524.09 2214.92 L1527.66 2216.76 L1531.23 2218.61 L1534.79 2220.45 L1538.36 2222.3 L1541.93 2224.15 L1545.49 2226 L1549.06 2227.85 L1552.63 2229.71 L1556.19 2231.56 L1559.75 2233.41 L1563.32 2235.27 L1566.88 2237.12 L1570.44 2238.98 L1574.01 2240.84 L1577.57 2242.7 L1581.13 2244.56 L1584.69 2246.42 L1588.25 2248.28 L1591.81 2250.14 L1595.37 2252.01 L1598.93 2253.87 L1602.48 2255.74 L1606.04 2257.61 L1609.6 2259.48 L1613.15 2261.35 L1616.71 2263.22 L1620.26 2265.09 L1623.82 2266.96 L1627.37 2268.83 L1630.92 2270.71 L1634.48 2272.59 L1638.03 2274.46 L1641.58 2276.34 L1645.13 2278.22 L1648.68 2280.1 L1652.23 2281.98 L1655.78 2283.86 L1659.33 2285.75 L1662.88 2287.63 L1666.42 2289.52 L1669.97 2291.41 L1673.52 2293.29 L1677.06 2295.18 L1680.61 2297.08 L1684.15 2298.97 L1687.69 2300.86 L1691.24 2302.75 L1694.78 2304.65 L1698.32 2306.55 L1701.86 2308.44 L1705.4 2310.34 L1708.94 2312.24 L1712.48 2314.15 L1716.02 2316.05 L1719.56 2317.95 L1723.09 2319.86 L1726.63 2321.76 L1730.17 2323.67 L1733.7 2325.58 L1737.24 2327.49 L1740.77 2329.4 L1744.3 2331.32 L1747.84 2333.23 L1751.37 2335.14 L1754.9 2337.06 L1758.43 2338.98 L1761.96 2340.9 L1765.49 2342.82 L1769.02 2344.74 L1772.54 2346.66 L1776.07 2348.59 L1779.6 2350.51 L1783.12 2352.44 L1786.65 2354.37 L1790.17 2356.3 L1793.69 2358.23 L1797.22 2360.16 L1800.74 2362.1 L1804.26 2364.03 L1807.78 2365.97 L1811.3 2367.91 L1814.82 2369.85 L1818.33 2371.79 L1821.85 2373.73 L1825.37 2375.67 L1828.88 2377.62 L1832.4 2379.56 L1835.91 2381.51 L1839.43 2383.46 L1842.94 2385.41 L1846.45 2387.36 L1849.96 2389.32 L1853.47 2391.27 L1856.98 2393.23 L1860.49 2395.18 L1864 2397.14 L1884 2406.78 L1907.57 2415.35 L1933.28 2423.93 L1954.71 2438.92 L1971.85 2457.14 L1986.85 2480.71 L1999.7 2504.28 L2014.7 2524.63 L2033.99 2536.42 L2046.84 2537.49 L2056.49 2525.7 L2060.77 2512.85 L2065.06 2498.92 L2071.48 2474.28 L2077.91 2447.5 L2083.27 2422.85 L2088.63 2396.07 L2106.86 2297.14 L2113.27 2266.41 L2118.62 2240.7 L2122.91 2214.99 L2128.27 2189.28 L2132.55 2163.56 L2138.98 2135.71 L2144.34 2110 L2148.62 2085.35 L2151.41 2076.14" fill="none" stroke="#336633" stroke-width="6.5" stroke-linejoin="round" stroke-dasharray="13.14 13.14"/>
</g>
<path d="M665.46 2606.9v-9.6M665.46 1545.6v9.6M1036.92 2606.9v-9.6M1036.92 1545.6v9.6M1408.38 2606.9v-9.6M1408.38 1545.6v9.6M1779.84 2606.9v-9.6M1779.84 1545.6v9.6M294 1722.48h9.6M2151.3 1722.48h-9.6M294 1899.37h9.6M2151.3 1899.37h-9.6M294 2076.25h9.6M2151.3 2076.25h-9.6M294 2253.13h9.6M2151.3 2253.13h-9.6M294 2430.02h9.6M2151.3 2430.02h-9.6" stroke="#000" stroke-width="1.3" fill="none"/>
<rect x="294" y="1545.6" width="1857.3" height="1061.3" fill="none" stroke="#000" stroke-width="2.2"/>
<text><tspan x="179.73" y="1560.35" font-size="67.3" textLength="78.6" lengthAdjust="spacingAndGlyphs">0.6</tspan></text>
<text><tspan x="179.77" y="1737.23" font-size="67.3" textLength="77.62" lengthAdjust="spacingAndGlyphs">0.4</tspan></text>
<text><tspan x="179.68" y="1914.12" font-size="67.3" textLength="80.3" lengthAdjust="spacingAndGlyphs">0.2</tspan></text>
<text><tspan x="179.71" y="2091" font-size="67.3" textLength="79.27" lengthAdjust="spacingAndGlyphs">0.0</tspan></text>
<text><tspan x="127.38" y="2274.1" font-size="54" textLength="50.46" lengthAdjust="spacingAndGlyphs">−</tspan><tspan x="177.51" y="2273.78" font-size="67.3" textLength="79.44" lengthAdjust="spacingAndGlyphs">0.2</tspan></text>
<text><tspan x="127.38" y="2450.99" font-size="54" textLength="50.46" lengthAdjust="spacingAndGlyphs">−</tspan><tspan x="177.59" y="2450.67" font-size="67.3" textLength="76.78" lengthAdjust="spacingAndGlyphs">0.4</tspan></text>
<text><tspan x="127.38" y="2627.87" font-size="54" textLength="50.46" lengthAdjust="spacingAndGlyphs">−</tspan><tspan x="177.56" y="2627.55" font-size="67.3" textLength="77.75" lengthAdjust="spacingAndGlyphs">0.6</tspan></text>
<text><tspan x="250.76" y="2681.75" font-size="67.3" textLength="81.09" lengthAdjust="spacingAndGlyphs">0.0</tspan></text>
<text><tspan x="623.11" y="2681.75" font-size="67.3" textLength="82.47" lengthAdjust="spacingAndGlyphs">0.2</tspan></text>
<text><tspan x="994.28" y="2681.75" font-size="67.3" textLength="80.44" lengthAdjust="spacingAndGlyphs">0.4</tspan></text>
<text><tspan x="1365.49" y="2681.75" font-size="67.3" textLength="79.87" lengthAdjust="spacingAndGlyphs">0.6</tspan></text>
<text><tspan x="1736.46" y="2681.75" font-size="67.3" textLength="80.88" lengthAdjust="spacingAndGlyphs">0.8</tspan></text>
<text><tspan x="2103.96" y="2681.75" font-size="67.3" textLength="81.81" lengthAdjust="spacingAndGlyphs">1.0</tspan></text>
<text><tspan x="889.67" y="2736.45" font-size="65.6" textLength="284.3" lengthAdjust="spacingAndGlyphs">normalized</tspan> <tspan x="1198.57" y="2736.45" font-size="65.6" textLength="31.82" lengthAdjust="spacingAndGlyphs" font-style="italic">x</tspan> <tspan x="1251.94" y="2736.45" font-size="65.6" textLength="300.75" lengthAdjust="spacingAndGlyphs">coordinates</tspan></text>
<text transform="rotate(-90)"><tspan x="-2364.71" y="97.45" font-size="65.6" textLength="280.57" lengthAdjust="spacingAndGlyphs">normalized</tspan> <tspan x="-2062.57" y="97.45" font-size="65.6" textLength="30.04" lengthAdjust="spacingAndGlyphs" font-style="italic">v</tspan><tspan x="-2026.74" y="106.7" font-size="44.4" textLength="17" lengthAdjust="spacingAndGlyphs" font-style="italic" stroke-width="0.5">y</tspan> <tspan x="-1986.95" y="97.45" font-size="65.6" textLength="201.09" lengthAdjust="spacingAndGlyphs">velocity</tspan></text>
<rect x="1406.7" y="1527.6" width="692" height="570.7" rx="12" fill="#7f7f7f" stroke="#7f7f7f" stroke-width="2.2"/>
<rect x="1404" y="1524.9" width="692" height="570.7" rx="12" fill="#fff" stroke="#000" stroke-width="2.2"/>
<rect x="1440.4" y="1564.65" width="19.3" height="19.3" fill="#990000" stroke="#000" stroke-width="1.1"/>
<rect x="1531.9" y="1564.65" width="19.3" height="19.3" fill="#990000" stroke="#000" stroke-width="1.1"/>
<circle cx="1450.05" cy="1759.1" r="9.65" fill="#0033ff" stroke="#000" stroke-width="1.1"/>
<circle cx="1541.55" cy="1759.1" r="9.65" fill="#0033ff" stroke="#000" stroke-width="1.1"/>
<path d="M1440.4 1932.85H1459.7L1450.05 1952.15Z" fill="#336633" stroke="#000" stroke-width="1.1"/>
<path d="M1531.9 1932.85H1551.2L1541.55 1952.15Z" fill="#336633" stroke="#000" stroke-width="1.1"/>
<path d="M1448.65 1666.4H1539.65" stroke="#990000" stroke-width="6.5" stroke-dasharray="6.56 10.93 2.19 10.93" fill="none"/>
<path d="M1448.65 1849.8H1540.25" stroke="#0033ff" stroke-width="6.5" stroke-linecap="square" fill="none"/>
<path d="M1448.65 2032.7H1541.15" stroke="#336633" stroke-width="6.5" stroke-dasharray="13.1 13.1" fill="none"/>
<text><tspan x="1610.6" y="1597.05" font-size="68.6" textLength="104.39" lengthAdjust="spacingAndGlyphs">Ref.</tspan> <tspan x="1745.61" y="1597.05" font-size="68.6" textLength="75.2" lengthAdjust="spacingAndGlyphs" font-style="italic">Re</tspan> <tspan x="1835.84" y="1598.5" font-size="53.5" textLength="52.03" lengthAdjust="spacingAndGlyphs">=</tspan> <tspan x="1903.4" y="1597.55" font-size="67.3" textLength="92.52" lengthAdjust="spacingAndGlyphs">100</tspan></text>
<text><tspan x="1610.46" y="1690.55" font-size="68.6" textLength="152.63" lengthAdjust="spacingAndGlyphs">FEM,</tspan> <tspan x="1786.3" y="1690.55" font-size="68.6" textLength="73.88" lengthAdjust="spacingAndGlyphs" font-style="italic">Re</tspan> <tspan x="1876.89" y="1692" font-size="53.5" textLength="52.52" lengthAdjust="spacingAndGlyphs">=</tspan> <tspan x="1943.3" y="1691.05" font-size="67.3" textLength="92.52" lengthAdjust="spacingAndGlyphs">100</tspan></text>
<text><tspan x="1610.6" y="1780.35" font-size="68.6" textLength="104.39" lengthAdjust="spacingAndGlyphs">Ref.</tspan> <tspan x="1745.61" y="1780.35" font-size="68.6" textLength="75.2" lengthAdjust="spacingAndGlyphs" font-style="italic">Re</tspan> <tspan x="1835.84" y="1781.8" font-size="53.5" textLength="52.03" lengthAdjust="spacingAndGlyphs">=</tspan> <tspan x="1903.46" y="1780.85" font-size="67.3" textLength="122.03" lengthAdjust="spacingAndGlyphs">1000</tspan></text>
<text><tspan x="1610.46" y="1873.35" font-size="68.6" textLength="152.63" lengthAdjust="spacingAndGlyphs">FEM,</tspan> <tspan x="1786.3" y="1873.35" font-size="68.6" textLength="73.88" lengthAdjust="spacingAndGlyphs" font-style="italic">Re</tspan> <tspan x="1876.89" y="1874.8" font-size="53.5" textLength="52.52" lengthAdjust="spacingAndGlyphs">=</tspan> <tspan x="1943.38" y="1873.85" font-size="67.3" textLength="121.5" lengthAdjust="spacingAndGlyphs">1000</tspan></text>
<text><tspan x="1610.6" y="1962.75" font-size="68.6" textLength="104.39" lengthAdjust="spacingAndGlyphs">Ref.</tspan> <tspan x="1745.61" y="1962.75" font-size="68.6" textLength="75.2" lengthAdjust="spacingAndGlyphs" font-style="italic">Re</tspan> <tspan x="1835.84" y="1964.2" font-size="53.5" textLength="52.03" lengthAdjust="spacingAndGlyphs">=</tspan> <tspan x="1903.59" y="1963.25" font-size="67.3" textLength="121.89" lengthAdjust="spacingAndGlyphs">5000</tspan></text>
<text><tspan x="1610.46" y="2056.25" font-size="68.6" textLength="152.63" lengthAdjust="spacingAndGlyphs">FEM,</tspan> <tspan x="1786.3" y="2056.25" font-size="68.6" textLength="73.88" lengthAdjust="spacingAndGlyphs" font-style="italic">Re</tspan> <tspan x="1876.89" y="2057.7" font-size="53.5" textLength="52.52" lengthAdjust="spacingAndGlyphs">=</tspan> <tspan x="1943.51" y="2056.75" font-size="67.3" textLength="121.37" lengthAdjust="spacingAndGlyphs">5000</tspan></text>
<text class="cap"><tspan x="1067.69" y="1384" font-size="78" textLength="23.77" lengthAdjust="spacingAndGlyphs" stroke-width="0">(</tspan><tspan x="1091.78" y="1384" font-size="74.5" textLength="35.38" lengthAdjust="spacingAndGlyphs" font-weight="bold">a</tspan><tspan x="1128.8" y="1384" font-size="78" textLength="23.31" lengthAdjust="spacingAndGlyphs" stroke-width="0">)</tspan></text>
<text class="cap"><tspan x="1063.39" y="2878.7" font-size="78" textLength="23.77" lengthAdjust="spacingAndGlyphs" stroke-width="0">(</tspan><tspan x="1086.79" y="2878.7" font-size="79" textLength="44.72" lengthAdjust="spacingAndGlyphs" font-weight="bold">b</tspan><tspan x="1133.1" y="2878.7" font-size="78" textLength="23.31" lengthAdjust="spacingAndGlyphs" stroke-width="0">)</tspan></text>
</svg>
</body></html>
